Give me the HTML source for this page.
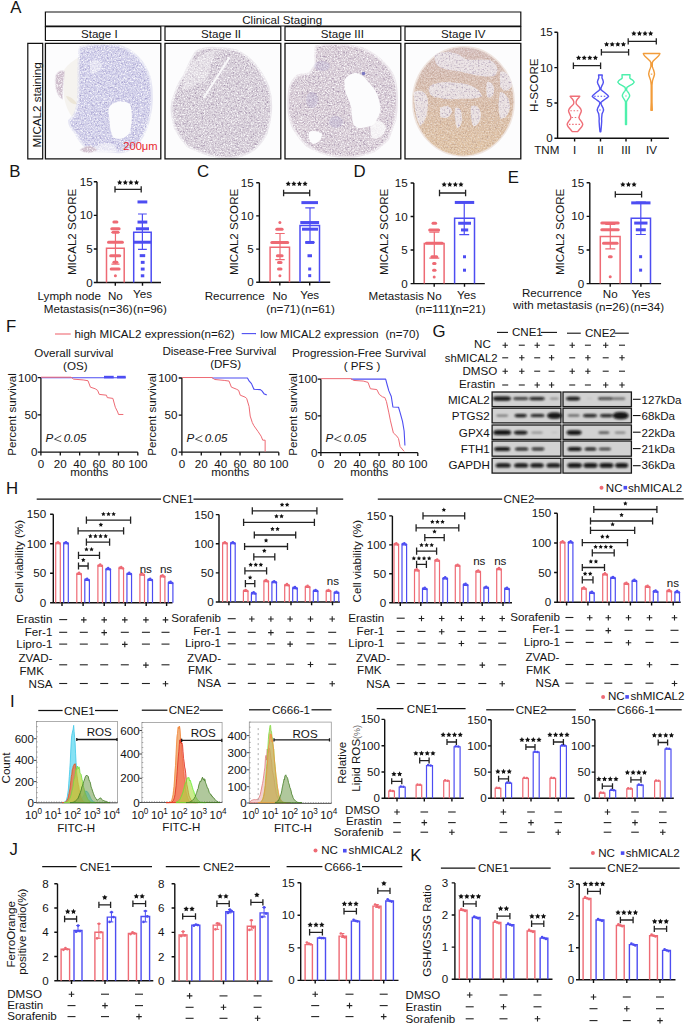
<!DOCTYPE html>
<html><head><meta charset="utf-8"><style>
html,body{margin:0;padding:0;background:#fff;width:685px;height:1027px;overflow:hidden}
svg{display:block}
</style></head><body>
<svg width="685" height="1027" viewBox="0 0 685 1027" font-family='"Liberation Sans", sans-serif' font-size="11.6" fill="#141414">
<defs>
<filter id="spk" x="0" y="0" width="100%" height="100%" color-interpolation-filters="sRGB">
 <feTurbulence type="fractalNoise" baseFrequency="0.7" numOctaves="3" seed="7" result="n"/>
 <feColorMatrix in="n" type="matrix" values="0 0 0 0 1  0 0 0 0 1  0 0 0 0 1  -2.4 0 0 0 1.38" result="w"/>
 <feComposite in="w" in2="SourceAlpha" operator="in"/>
</filter>
<filter id="spk2" x="0" y="0" width="100%" height="100%" color-interpolation-filters="sRGB">
 <feTurbulence type="fractalNoise" baseFrequency="0.55" numOctaves="3" seed="11" result="n"/>
 <feColorMatrix in="n" type="matrix" values="0 0 0 0 0.55  0 0 0 0 0.52  0 0 0 0 0.74  2.6 0 0 0 -1.3" result="w"/>
 <feComposite in="w" in2="SourceAlpha" operator="in"/>
</filter>
<filter id="spk3" x="0" y="0" width="100%" height="100%" color-interpolation-filters="sRGB">
 <feTurbulence type="fractalNoise" baseFrequency="0.55" numOctaves="3" seed="11" result="n"/>
 <feColorMatrix in="n" type="matrix" values="0 0 0 0 0.58  0 0 0 0 0.5  0 0 0 0 0.62  2.6 0 0 0 -1.3" result="w"/>
 <feComposite in="w" in2="SourceAlpha" operator="in"/>
</filter>
<filter id="spk4" x="0" y="0" width="100%" height="100%" color-interpolation-filters="sRGB">
 <feTurbulence type="fractalNoise" baseFrequency="0.55" numOctaves="3" seed="5" result="n"/>
 <feColorMatrix in="n" type="matrix" values="0 0 0 0 0.7  0 0 0 0 0.58  0 0 0 0 0.52  2.6 0 0 0 -1.3" result="w"/>
 <feComposite in="w" in2="SourceAlpha" operator="in"/>
</filter>
<filter id="blur2" x="-20%" y="-50%" width="140%" height="200%"><feGaussianBlur stdDeviation="0.85"/></filter>
</defs>
<rect width="685" height="1027" fill="#fff"/>
<text x="10.3" y="13" font-size="16.8">A</text>
<path d="M45.4 12H520.8V26H45.4Z" stroke="#111" stroke-width="1.2" fill="none"/>
<text x="282.2" y="23.5" text-anchor="middle">Clinical Staging</text>
<path d="M45.4 26.6H160.8V40.5H45.4Z" stroke="#111" stroke-width="1.2" fill="none"/>
<text x="99.3" y="37.9" text-anchor="middle">Stage I</text>
<path d="M165 26.6H280.8V40.5H165Z" stroke="#111" stroke-width="1.2" fill="none"/>
<text x="221.1" y="37.9" text-anchor="middle">Stage II</text>
<path d="M285 26.6H400.8V40.5H285Z" stroke="#111" stroke-width="1.2" fill="none"/>
<text x="342.4" y="37.9" text-anchor="middle">Stage III</text>
<path d="M405 26.6H520.8V40.5H405Z" stroke="#111" stroke-width="1.2" fill="none"/>
<text x="463.3" y="37.9" text-anchor="middle">Stage IV</text>
<path d="M27.8 43.4H42.7V158.8H27.8Z" stroke="#111" stroke-width="1.2" fill="none"/>
<text x="40.6" y="104.9" text-anchor="middle" transform="rotate(-90 40.6 104.9)">MICAL2 staining</text>
<rect x="45.4" y="43.4" width="115.4" height="115.4" fill="#fcfcfd"/>
<rect x="165" y="43.4" width="115.4" height="115.4" fill="#fcfcfd"/>
<rect x="285" y="43.4" width="115.4" height="115.4" fill="#fcfcfd"/>
<rect x="405" y="43.4" width="115.4" height="115.4" fill="#fcfcfd"/>
<path d="M64 70 C68 64 74 60 81 56 L80 80 C79 96 77 108 73 118 C68 112 65 104 64 96Z" fill="#f5f3ef"/>
<path d="M66 96 C70 96 75 100 77 104 C72 105 68 101 66 96Z" fill="#ece6d8"/>
<path d="M81 48 C90 45 105 44 117 46 C132 50 144 62 149 78 C152 92 151 108 148 120 C145 132 140 140 134 146 C128 150 122 152 116 151 C108 150 100 150 92 150 C86 148 80 140 76 132 C72 128 70 124 70 121 C74 118 78 112 79 100 C80 84 79 66 80 56 C80 52 80 50 81 48Z" fill="none" stroke="#cdcbe8" stroke-width="4" opacity="0.45"/>
<path d="M81 48 C90 45 105 44 117 46 C132 50 144 62 149 78 C152 92 151 108 148 120 C145 132 140 140 134 146 C128 150 122 152 116 151 C108 150 100 150 92 150 C86 148 80 140 76 132 C72 128 70 124 70 121 C74 118 78 112 79 100 C80 84 79 66 80 56 C80 52 80 50 81 48Z" fill="#cdcbe8"/>
<path d="M81 48 C90 45 105 44 117 46 C132 50 144 62 149 78 C152 92 151 108 148 120 C145 132 140 140 134 146 C128 150 122 152 116 151 C108 150 100 150 92 150 C86 148 80 140 76 132 C72 128 70 124 70 121 C74 118 78 112 79 100 C80 84 79 66 80 56 C80 52 80 50 81 48Z" fill="#000" filter="url(#spk2)" opacity="0.7"/>
<path d="M81 48 C90 45 105 44 117 46 C132 50 144 62 149 78 C152 92 151 108 148 120 C145 132 140 140 134 146 C128 150 122 152 116 151 C108 150 100 150 92 150 C86 148 80 140 76 132 C72 128 70 124 70 121 C74 118 78 112 79 100 C80 84 79 66 80 56 C80 52 80 50 81 48Z" fill="#000" stroke="#000" stroke-width="4" filter="url(#spk)"/>
<path d="M110 106 C114 101 124 100 130 104 C133 112 132 124 130 132 C127 138 120 140 114 138 C110 134 110 124 109 116 C108 112 108 108 110 106Z" fill="#fcfcfd"/>
<path d="M92 150 C96 144 104 142 112 144 C116 146 118 150 116 152 L90 152Z" fill="#fcfcfd" opacity="0.6"/>
<path d="M90 62 C94 58 100 60 102 66 C100 72 94 76 90 72Z" fill="#fff" opacity="0.45"/>
<path d="M56 76 C58 72 62 70 64 72 C63 80 62 90 62 98 C58 96 55 88 56 76Z" fill="none" stroke="#cdbccb" stroke-width="2" opacity="0.45"/>
<path d="M56 76 C58 72 62 70 64 72 C63 80 62 90 62 98 C58 96 55 88 56 76Z" fill="#cdbccb"/>
<path d="M56 76 C58 72 62 70 64 72 C63 80 62 90 62 98 C58 96 55 88 56 76Z" fill="#000" stroke="#000" stroke-width="2" filter="url(#spk)"/>
<path d="M81 150 C85 146 92 145 96 150 C92 153 85 153 81 150Z" fill="none" stroke="#cfbecc" stroke-width="2" opacity="0.45"/>
<path d="M81 150 C85 146 92 145 96 150 C92 153 85 153 81 150Z" fill="#cfbecc"/>
<path d="M81 150 C85 146 92 145 96 150 C92 153 85 153 81 150Z" fill="#000" stroke="#000" stroke-width="2" filter="url(#spk)"/>
<path d="M196.7 52.3 C203 49 210 48.5 215.7 48.9 C224 49 231 50 236.4 51.5 C244 55 249 59 253.6 64.4 C260 72 264 79 267.4 86.8 C270 95 270.5 103 270 110.9 C269.5 119 268 126 265.6 133.3 C262 140 258 145 253.6 148.8 C247 153 240 156 232.9 156.6 C224 157 216 156 208.8 154 C201 151 194 149 188.1 145.4 C183 140 179 134 176 128.1 C174 121 172.5 114 172.6 107.5 C173 102 174 98 176 93.7 C178 87 181 81 184.7 76.5 C188 69 192 59 196.7 52.3Z" fill="none" stroke="#d3cad5" stroke-width="4" opacity="0.45"/>
<path d="M196.7 52.3 C203 49 210 48.5 215.7 48.9 C224 49 231 50 236.4 51.5 C244 55 249 59 253.6 64.4 C260 72 264 79 267.4 86.8 C270 95 270.5 103 270 110.9 C269.5 119 268 126 265.6 133.3 C262 140 258 145 253.6 148.8 C247 153 240 156 232.9 156.6 C224 157 216 156 208.8 154 C201 151 194 149 188.1 145.4 C183 140 179 134 176 128.1 C174 121 172.5 114 172.6 107.5 C173 102 174 98 176 93.7 C178 87 181 81 184.7 76.5 C188 69 192 59 196.7 52.3Z" fill="#d3cad5"/>
<path d="M196.7 52.3 C203 49 210 48.5 215.7 48.9 C224 49 231 50 236.4 51.5 C244 55 249 59 253.6 64.4 C260 72 264 79 267.4 86.8 C270 95 270.5 103 270 110.9 C269.5 119 268 126 265.6 133.3 C262 140 258 145 253.6 148.8 C247 153 240 156 232.9 156.6 C224 157 216 156 208.8 154 C201 151 194 149 188.1 145.4 C183 140 179 134 176 128.1 C174 121 172.5 114 172.6 107.5 C173 102 174 98 176 93.7 C178 87 181 81 184.7 76.5 C188 69 192 59 196.7 52.3Z" fill="#000" filter="url(#spk3)" opacity="0.8"/>
<path d="M196.7 52.3 C203 49 210 48.5 215.7 48.9 C224 49 231 50 236.4 51.5 C244 55 249 59 253.6 64.4 C260 72 264 79 267.4 86.8 C270 95 270.5 103 270 110.9 C269.5 119 268 126 265.6 133.3 C262 140 258 145 253.6 148.8 C247 153 240 156 232.9 156.6 C224 157 216 156 208.8 154 C201 151 194 149 188.1 145.4 C183 140 179 134 176 128.1 C174 121 172.5 114 172.6 107.5 C173 102 174 98 176 93.7 C178 87 181 81 184.7 76.5 C188 69 192 59 196.7 52.3Z" fill="#000" stroke="#000" stroke-width="4" filter="url(#spk)"/>
<path d="M202.6 97.6 L228.6 57 L230.4 58 L204.6 98.6Z" fill="#fcfcfd" opacity="0.9"/>
<path d="M186 70 C194 58 206 52 216 50 L206 80 C198 84 190 88 182 90Z" fill="#fff" opacity="0.35"/>
<path d="M316.7 47.2 C325 45.5 333 45 340.8 45.4 C348 46 355 47 361.5 48.9 C369 52 375 56 380.5 61 C386 66 390 71 392.5 76.5 C395 83 396 91 396 98.8 C396 106 395.5 113 394.3 119.5 C392 126 390 132 387.4 138.5 C383 143 378 147 373.6 150.5 C367 153 360 155 352.9 155.7 C345 156 336 155.5 328.8 154 C321 152 314 149 308.1 145.4 C302 140 298 134 294.3 128.1 C291 121 289.5 114 289.2 107.5 C289 100 289.5 93 290.9 86.8 C292.5 82 295 79 297.8 76.5 C302 75 306 75 309.8 74.7 C312 71 315 68 316.7 64.4 C316 58 316 52 316.7 47.2Z" fill="none" stroke="#d6cad4" stroke-width="4" opacity="0.45"/>
<path d="M316.7 47.2 C325 45.5 333 45 340.8 45.4 C348 46 355 47 361.5 48.9 C369 52 375 56 380.5 61 C386 66 390 71 392.5 76.5 C395 83 396 91 396 98.8 C396 106 395.5 113 394.3 119.5 C392 126 390 132 387.4 138.5 C383 143 378 147 373.6 150.5 C367 153 360 155 352.9 155.7 C345 156 336 155.5 328.8 154 C321 152 314 149 308.1 145.4 C302 140 298 134 294.3 128.1 C291 121 289.5 114 289.2 107.5 C289 100 289.5 93 290.9 86.8 C292.5 82 295 79 297.8 76.5 C302 75 306 75 309.8 74.7 C312 71 315 68 316.7 64.4 C316 58 316 52 316.7 47.2Z" fill="#d6cad4"/>
<path d="M316.7 47.2 C325 45.5 333 45 340.8 45.4 C348 46 355 47 361.5 48.9 C369 52 375 56 380.5 61 C386 66 390 71 392.5 76.5 C395 83 396 91 396 98.8 C396 106 395.5 113 394.3 119.5 C392 126 390 132 387.4 138.5 C383 143 378 147 373.6 150.5 C367 153 360 155 352.9 155.7 C345 156 336 155.5 328.8 154 C321 152 314 149 308.1 145.4 C302 140 298 134 294.3 128.1 C291 121 289.5 114 289.2 107.5 C289 100 289.5 93 290.9 86.8 C292.5 82 295 79 297.8 76.5 C302 75 306 75 309.8 74.7 C312 71 315 68 316.7 64.4 C316 58 316 52 316.7 47.2Z" fill="#000" filter="url(#spk3)" opacity="0.8"/>
<path d="M316.7 47.2 C325 45.5 333 45 340.8 45.4 C348 46 355 47 361.5 48.9 C369 52 375 56 380.5 61 C386 66 390 71 392.5 76.5 C395 83 396 91 396 98.8 C396 106 395.5 113 394.3 119.5 C392 126 390 132 387.4 138.5 C383 143 378 147 373.6 150.5 C367 153 360 155 352.9 155.7 C345 156 336 155.5 328.8 154 C321 152 314 149 308.1 145.4 C302 140 298 134 294.3 128.1 C291 121 289.5 114 289.2 107.5 C289 100 289.5 93 290.9 86.8 C292.5 82 295 79 297.8 76.5 C302 75 306 75 309.8 74.7 C312 71 315 68 316.7 64.4 C316 58 316 52 316.7 47.2Z" fill="#000" stroke="#000" stroke-width="4" filter="url(#spk)"/>
<g fill="#9c94cc" opacity="0.2"><ellipse cx="322" cy="66" rx="8" ry="5"/><ellipse cx="336" cy="122" rx="7" ry="6"/><ellipse cx="312" cy="100" rx="6" ry="8"/></g>
<path d="M344.3 79.9 C348 75 352 73 356.4 73 C360 74 364 76 366.7 79.9 C371 85 375 89 377 93.7 C379 99 380.5 105 380.5 110.9 C379 116 376 121 373.6 124.7 C368 127 363 128 358.1 128.1 C355 126 354 125 352.9 123 C352 118 351.5 112 351.2 107.5 C350 102 348 98 346 93.7 C345 89 344 84 344.3 79.9Z" fill="#fcfcfd"/>
<path d="M309 132 C313 130 319 131 322 134 C322 139 319 143 313 144 C309 141 308 136 309 132Z" fill="#fcfcfd"/>
<path d="M372 122 C378 118 384 122 386 128 C384 136 378 140 372 138 C370 132 370 126 372 122Z" fill="#fcfcfd" opacity="0.8"/>
<circle cx="363.5" cy="73.5" r="1.8" fill="#7a78c0"/>
<linearGradient id="g4" x1="0" y1="0" x2="0" y2="1"><stop offset="0" stop-color="#d3bcba"/><stop offset="0.5" stop-color="#d8bca8"/><stop offset="1" stop-color="#dfc2a2"/></linearGradient>
<path d="M463.4 47.4 C491 47.4 513.4 71.6 513.4 101.4 C513.4 131.2 491 155.4 463.4 155.4 C435.8 155.4 413.4 131.2 413.4 101.4 C413.4 71.6 435.8 47.4 463.4 47.4Z" fill="none" stroke="#dcc4b4" stroke-width="3" opacity="0.4"/>
<path d="M463.4 47.4 C491 47.4 513.4 71.6 513.4 101.4 C513.4 131.2 491 155.4 463.4 155.4 C435.8 155.4 413.4 131.2 413.4 101.4 C413.4 71.6 435.8 47.4 463.4 47.4Z" fill="url(#g4)"/>
<path d="M463.4 47.4 C491 47.4 513.4 71.6 513.4 101.4 C513.4 131.2 491 155.4 463.4 155.4 C435.8 155.4 413.4 131.2 413.4 101.4 C413.4 71.6 435.8 47.4 463.4 47.4Z" fill="#000" filter="url(#spk4)" opacity="0.75"/>
<g fill="#ece6ea" opacity="0.85"><path d="M436 54 C446 50 458 52 464 58 C470 62 478 58 490 60 C498 64 500 72 494 76 C484 78 472 74 462 72 C452 70 444 70 438 66 C434 62 434 57 436 54Z"/><path d="M430 86 C440 80 452 82 466 84 C474 86 480 90 482 96 C476 100 466 98 456 99 C446 100 438 98 432 96 C428 92 428 89 430 86Z"/><path d="M414 92 C420 88 428 92 428 102 C428 112 426 122 420 126 C416 120 414 108 414 92Z"/><path d="M455 108 C459 106 462 110 462 118 C462 124 460 128 457 128 C455 122 454 114 455 108Z"/><path d="M471 106 C476 104 481 108 481 116 C480 122 477 127 473 126 C471 120 470 112 471 106Z"/><path d="M487 82 C491 81 495 86 494 92 C493 97 490 99 487 97 C486 92 486 86 487 82Z"/><path d="M500 92 C505 92 510 98 510 108 C508 116 504 120 500 118 C498 110 498 100 500 92Z"/><path d="M500 72 C505 70 511 76 512 86 C508 92 503 92 500 86Z"/><path d="M440 108 C446 104 452 106 452 112 C450 118 444 120 440 116Z"/></g>
<g fill="#000" filter="url(#spk3)" opacity="0.7"><path d="M436 54 C446 50 458 52 464 58 C470 62 478 58 490 60 C498 64 500 72 494 76 C484 78 472 74 462 72 C452 70 444 70 438 66 C434 62 434 57 436 54Z"/><path d="M430 86 C440 80 452 82 466 84 C474 86 480 90 482 96 C476 100 466 98 456 99 C446 100 438 98 432 96 C428 92 428 89 430 86Z"/><path d="M414 92 C420 88 428 92 428 102 C428 112 426 122 420 126 C416 120 414 108 414 92Z"/><path d="M455 108 C459 106 462 110 462 118 C462 124 460 128 457 128 C455 122 454 114 455 108Z"/><path d="M471 106 C476 104 481 108 481 116 C480 122 477 127 473 126 C471 120 470 112 471 106Z"/><path d="M487 82 C491 81 495 86 494 92 C493 97 490 99 487 97 C486 92 486 86 487 82Z"/><path d="M500 92 C505 92 510 98 510 108 C508 116 504 120 500 118 C498 110 498 100 500 92Z"/><path d="M500 72 C505 70 511 76 512 86 C508 92 503 92 500 86Z"/><path d="M440 108 C446 104 452 106 452 112 C450 118 444 120 440 116Z"/></g>
<path d="M463.4 47.4 C491 47.4 513.4 71.6 513.4 101.4 C513.4 131.2 491 155.4 463.4 155.4 C435.8 155.4 413.4 131.2 413.4 101.4 C413.4 71.6 435.8 47.4 463.4 47.4Z" fill="#000" filter="url(#spk)" opacity="0.5"/>
<path d="M45.4 43.4H160.8V158.8H45.4Z" stroke="#111" stroke-width="1.3" fill="none"/>
<path d="M165 43.4H280.8V158.8H165Z" stroke="#111" stroke-width="1.3" fill="none"/>
<path d="M285 43.4H400.8V158.8H285Z" stroke="#111" stroke-width="1.3" fill="none"/>
<path d="M405 43.4H520.8V158.8H405Z" stroke="#111" stroke-width="1.3" fill="none"/>
<text x="123.2" y="149.6" font-size="11.2" fill="#e8262e">200μm</text>
<path d="M557.6 32.3V138.3H668.9M554.4 138.3H557.6M554.4 102.97H557.6M554.4 67.63H557.6M554.4 32.3H557.6M574.6 138.3V141.5M600.5 138.3V141.5M626 138.3V141.5M651.4 138.3V141.5" stroke="#111" stroke-width="1.4" fill="none"/>
<text x="552.8" y="142.3" text-anchor="end">0</text>
<text x="552.8" y="106.97" text-anchor="end">5</text>
<text x="552.8" y="71.63" text-anchor="end">10</text>
<text x="552.8" y="36.3" text-anchor="end">15</text>
<text x="537.6" y="85.2" text-anchor="middle" transform="rotate(-90 537.6 85.2)">H-SCORE</text>
<text x="534.2" y="154.2">TNM</text>
<text x="574.6" y="154.2" text-anchor="middle">I</text>
<text x="600.5" y="154.2" text-anchor="middle">II</text>
<text x="626" y="154.2" text-anchor="middle">III</text>
<text x="651.4" y="154.2" text-anchor="middle">IV</text>
<path d="M579.75 96.32 L578.75 97.67 L577.75 98.73 L576.55 100.49 L576.05 101.91 L576.15 103.32 L576.55 104.38 L577.95 105.79 L579.45 107.21 L580.75 108.97 L581.35 110.74 L581.05 112.15 L580.35 113.64 L579.45 115.69 L578.95 117.52 L579.55 119.22 L580.75 120.63 L581.75 122.05 L582.45 123.32 L582.75 124.38 L582.25 125.93 L581.35 127.28 L580.05 128.76 L578.75 130.31 L577.65 131.59 L572.25 131.59 L571.15 130.31 L569.85 128.76 L568.55 127.28 L567.65 125.93 L567.15 124.38 L567.45 123.32 L568.15 122.05 L569.15 120.63 L570.35 119.22 L570.95 117.52 L570.45 115.69 L569.55 113.64 L568.85 112.15 L568.55 110.74 L569.15 108.97 L570.45 107.21 L571.95 105.79 L573.35 104.38 L573.75 103.32 L573.85 101.91 L573.35 100.49 L572.15 98.73 L571.15 97.67 L570.15 96.32Z" stroke="#ef6f78" stroke-width="1.4" fill="none" stroke-linejoin="round"/>
<path d="M570.35 110.74H579.55" stroke="#ef6f78" stroke-width="1.1" fill="none" stroke-dasharray="1.5 1.7"/>
<path d="M571.55 117.52H578.35" stroke="#ef6f78" stroke-width="1.1" fill="none" stroke-dasharray="1.5 1.7"/>
<path d="M568.95 124.38H580.95" stroke="#ef6f78" stroke-width="1.1" fill="none" stroke-dasharray="1.5 1.7"/>
<path d="M602.25 75.05 L602 76.82 L602 78.09 L603 80.35 L603.4 82.05 L602.9 83.89 L602.05 85.37 L601.2 87.42 L600.8 89.4 L602 90.6 L603.9 92.01 L606 93.78 L607.7 95.19 L608.6 96.32 L607.3 97.67 L605 99.29 L602.8 100.85 L600.9 102.61 L601.3 104.38 L601.9 105.93 L603 107.91 L603.6 109.96 L603 111.8 L602.05 113.85 L601.6 118.51 L601.7 121.2 L601.3 126.99 L600.8 131.8 L600 131.8 L599.5 126.99 L599.1 121.2 L599.2 118.51 L598.75 113.85 L597.8 111.8 L597.2 109.96 L597.8 107.91 L598.9 105.93 L599.5 104.38 L599.9 102.61 L598 100.85 L595.8 99.29 L593.5 97.67 L592.2 96.32 L593.1 95.19 L594.8 93.78 L596.9 92.01 L598.8 90.6 L600 89.4 L599.6 87.42 L598.75 85.37 L597.9 83.89 L597.4 82.05 L597.8 80.35 L598.8 78.09 L598.8 76.82 L598.55 75.05Z" stroke="#5252f2" stroke-width="1.4" fill="none" stroke-linejoin="round"/>
<path d="M594.2 96.32H606.6" stroke="#5252f2" stroke-width="1.1" fill="none" stroke-dasharray="1.5 1.7"/>
<path d="M599.2 109.96H601.6" stroke="#5252f2" stroke-width="1.1" fill="none" stroke-dasharray="1.5 1.7"/>
<path d="M630 74.7 L629.8 78.09 L630.6 78.94 L632.2 79.79 L633.5 81.06 L634.2 82.05 L633.4 83.18 L632 84.38 L629.6 85.65 L626.9 87.42 L626.5 90.03 L627.4 91.31 L628.5 92.72 L629.4 94.49 L629.7 95.97 L628.9 97.67 L627.8 99.29 L626.9 100.85 L626.5 101.98 L626.5 124.45 L625.5 124.45 L625.5 101.98 L625.1 100.85 L624.2 99.29 L623.1 97.67 L622.3 95.97 L622.6 94.49 L623.5 92.72 L624.6 91.31 L625.5 90.03 L625.1 87.42 L622.4 85.65 L620 84.38 L618.6 83.18 L617.8 82.05 L618.5 81.06 L619.8 79.79 L621.4 78.94 L622.2 78.09 L622 74.7Z" stroke="#4ef0ac" stroke-width="1.4" fill="none" stroke-linejoin="round"/>
<path d="M625.2 95.97H626.8" stroke="#4ef0ac" stroke-width="1.1" fill="none" stroke-dasharray="1.5 1.7"/>
<path d="M659.9 53.57 L659.5 54.56 L658.7 55.69 L656.9 57.39 L655 59.15 L653.2 60.92 L652.3 62.55 L652.3 66.64 L652.9 68.34 L653.6 70.04 L654.2 72.23 L654.5 74.13 L654.1 76.11 L653.3 78.23 L652.6 80.35 L652.3 82.26 L652 85.09 L652 102.12 L652.3 110.32 L650.9 110.32 L651.2 102.12 L651.2 85.09 L650.9 82.26 L650.6 80.35 L649.9 78.23 L649.1 76.11 L648.7 74.13 L649 72.23 L649.6 70.04 L650.3 68.34 L650.9 66.64 L650.9 62.55 L650 60.92 L648.2 59.15 L646.3 57.39 L644.5 55.69 L643.7 54.56 L643.3 53.57Z" stroke="#f29c3a" stroke-width="1.4" fill="none" stroke-linejoin="round"/>
<path d="M650.8 74.13H652.4" stroke="#f29c3a" stroke-width="1.1" fill="none" stroke-dasharray="1.5 1.7"/>
<path d="M573.4 65.7H600.6M573.4 62.5V68.9M600.6 62.5V68.9" stroke="#222" stroke-width="1.3" fill="none"/>
<path d="M578.6 55.15L579.41 56.79L581.22 57.05L579.91 58.32L580.22 60.12L578.6 59.28L576.98 60.12L577.29 58.32L575.98 57.05L577.79 56.79ZM584.2 55.15L585.01 56.79L586.82 57.05L585.51 58.32L585.82 60.12L584.2 59.28L582.58 60.12L582.89 58.32L581.58 57.05L583.39 56.79ZM589.8 55.15L590.61 56.79L592.42 57.05L591.11 58.32L591.42 60.12L589.8 59.28L588.18 60.12L588.49 58.32L587.18 57.05L588.99 56.79ZM595.4 55.15L596.21 56.79L598.02 57.05L596.71 58.32L597.02 60.12L595.4 59.28L593.78 60.12L594.09 58.32L592.78 57.05L594.59 56.79Z" fill="#111"/>
<path d="M601.4 52.2H628.6M601.4 49V55.4M628.6 49V55.4" stroke="#222" stroke-width="1.3" fill="none"/>
<path d="M606.6 41.65L607.41 43.29L609.22 43.55L607.91 44.82L608.22 46.62L606.6 45.78L604.98 46.62L605.29 44.82L603.98 43.55L605.79 43.29ZM612.2 41.65L613.01 43.29L614.82 43.55L613.51 44.82L613.82 46.62L612.2 45.78L610.58 46.62L610.89 44.82L609.58 43.55L611.39 43.29ZM617.8 41.65L618.61 43.29L620.42 43.55L619.11 44.82L619.42 46.62L617.8 45.78L616.18 46.62L616.49 44.82L615.18 43.55L616.99 43.29ZM623.4 41.65L624.21 43.29L626.02 43.55L624.71 44.82L625.02 46.62L623.4 45.78L621.78 46.62L622.09 44.82L620.78 43.55L622.59 43.29Z" fill="#111"/>
<path d="M628.2 41.4H656.3M628.2 38.2V44.6M656.3 38.2V44.6" stroke="#222" stroke-width="1.3" fill="none"/>
<path d="M633.85 30.85L634.66 32.49L636.47 32.75L635.16 34.02L635.47 35.82L633.85 34.98L632.23 35.82L632.54 34.02L631.23 32.75L633.04 32.49ZM639.45 30.85L640.26 32.49L642.07 32.75L640.76 34.02L641.07 35.82L639.45 34.98L637.83 35.82L638.14 34.02L636.83 32.75L638.64 32.49ZM645.05 30.85L645.86 32.49L647.67 32.75L646.36 34.02L646.67 35.82L645.05 34.98L643.43 35.82L643.74 34.02L642.43 32.75L644.24 32.49ZM650.65 30.85L651.46 32.49L653.27 32.75L651.96 34.02L652.27 35.82L650.65 34.98L649.03 35.82L649.34 34.02L648.03 32.75L649.84 32.49Z" fill="#111"/>
<text x="9.2" y="177.3" font-size="16.8">B</text>
<text x="197" y="177.3" font-size="16.8">C</text>
<text x="353.6" y="177.3" font-size="16.8">D</text>
<text x="507.8" y="182.6" font-size="16.8">E</text>
<path d="M97 181.8V282.5H161M93.8 282.5H97M93.8 248.93H97M93.8 215.37H97M93.8 181.8H97M115.3 282.5V285.7M142.5 282.5V285.7" stroke="#111" stroke-width="1.4" fill="none"/>
<text x="92.6" y="286.5" text-anchor="end">0</text>
<text x="92.6" y="252.93" text-anchor="end">5</text>
<text x="92.6" y="219.37" text-anchor="end">10</text>
<text x="92.6" y="185.8" text-anchor="end">15</text>
<path d="M106.5 282.5V248.26H124.2V282.5" stroke="#ee6a74" stroke-width="1.5" fill="none"/>
<path d="M133.7 282.5V232.28H151.2V282.5" stroke="#4d4df2" stroke-width="1.5" fill="none"/>
<path d="M113.9 222.08H116.9" stroke="#ee6a74" stroke-width="3" fill="none" stroke-linecap="round"/>
<path d="M111.8 228.79H119.1" stroke="#ee6a74" stroke-width="3" fill="none" stroke-linecap="round"/>
<path d="M113 232.15H118" stroke="#ee6a74" stroke-width="3" fill="none" stroke-linecap="round"/>
<path d="M108.5 242.22H122.4" stroke="#ee6a74" stroke-width="3" fill="none" stroke-linecap="round"/>
<path d="M110.7 255.65H119.7" stroke="#ee6a74" stroke-width="3" fill="none" stroke-linecap="round"/>
<path d="M113.9 262.36H116.9" stroke="#ee6a74" stroke-width="3" fill="none" stroke-linecap="round"/>
<path d="M111.2 269.07H119.1" stroke="#ee6a74" stroke-width="3" fill="none" stroke-linecap="round"/>
<path d="M115.4 275.79H115.4" stroke="#ee6a74" stroke-width="3" fill="none" stroke-linecap="round"/>
<path d="M137.5 201.94H147.3" stroke="#4d4df2" stroke-width="3" fill="none"/>
<path d="M137.5 222.08H147.3" stroke="#4d4df2" stroke-width="3" fill="none"/>
<path d="M135.9 228.79H149" stroke="#4d4df2" stroke-width="3" fill="none"/>
<path d="M133.7 242.22H151.2" stroke="#4d4df2" stroke-width="3" fill="none"/>
<path d="M139.7 255.65H145.2" stroke="#4d4df2" stroke-width="3" fill="none"/>
<path d="M140.8 262.36H144.6" stroke="#4d4df2" stroke-width="3" fill="none"/>
<path d="M140.8 269.07H144.6" stroke="#4d4df2" stroke-width="3" fill="none"/>
<path d="M140.8 275.79H144.3" stroke="#4d4df2" stroke-width="3" fill="none"/>
<path d="M115.45 232.49V264.11M111.4 232.49H119.5M111.4 264.11H119.5" stroke="#ee6a74" stroke-width="1.2" fill="none"/>
<path d="M142.4 214.02V249.4M138 214.02H146.8M138 249.4H146.8" stroke="#4d4df2" stroke-width="1.2" fill="none"/>
<path d="M115 189.4H141.2M115 186.2V192.6M141.2 186.2V192.6" stroke="#222" stroke-width="1.3" fill="none"/>
<path d="M119.7 179.75L120.51 181.39L122.32 181.65L121.01 182.92L121.32 184.72L119.7 183.88L118.08 184.72L118.39 182.92L117.08 181.65L118.89 181.39ZM125.3 179.75L126.11 181.39L127.92 181.65L126.61 182.92L126.92 184.72L125.3 183.88L123.68 184.72L123.99 182.92L122.68 181.65L124.49 181.39ZM130.9 179.75L131.71 181.39L133.52 181.65L132.21 182.92L132.52 184.72L130.9 183.88L129.28 184.72L129.59 182.92L128.28 181.65L130.09 181.39ZM136.5 179.75L137.31 181.39L139.12 181.65L137.81 182.92L138.12 184.72L136.5 183.88L134.88 184.72L135.19 182.92L133.88 181.65L135.69 181.39Z" fill="#111"/>
<text x="75.7" y="231.9" text-anchor="middle" transform="rotate(-90 75.7 231.9)">MICAL2 SCORE</text>
<text x="37.6" y="299.6">Lymph node</text>
<text x="115.3" y="299.6" text-anchor="middle">No</text>
<text x="142.5" y="298.3" text-anchor="middle">Yes</text>
<text x="43.8" y="313">Metastasis</text>
<text x="98.9" y="313">(n=36)</text>
<text x="133.1" y="313">(n=96)</text>
<path d="M259.4 182.7V282.3H330.2M256.2 282.3H259.4M256.2 249.1H259.4M256.2 215.9H259.4M256.2 182.7H259.4M279.8 282.3V285.5M309.7 282.3V285.5" stroke="#111" stroke-width="1.4" fill="none"/>
<text x="253.6" y="286.3" text-anchor="end">0</text>
<text x="253.6" y="253.1" text-anchor="end">5</text>
<text x="253.6" y="219.9" text-anchor="end">10</text>
<text x="253.6" y="186.7" text-anchor="end">15</text>
<path d="M270.1 282.3V247.31H289.5V282.3" stroke="#ee6a74" stroke-width="1.5" fill="none"/>
<path d="M300 282.3V225.53H319.5V282.3" stroke="#4d4df2" stroke-width="1.5" fill="none"/>
<path d="M279.9 222.54H279.9" stroke="#ee6a74" stroke-width="3" fill="none" stroke-linecap="round"/>
<path d="M276.8 229.18H282.1" stroke="#ee6a74" stroke-width="3" fill="none" stroke-linecap="round"/>
<path d="M271.8 242.46H287.7" stroke="#ee6a74" stroke-width="3" fill="none" stroke-linecap="round"/>
<path d="M277.4 255.74H282.1" stroke="#ee6a74" stroke-width="3" fill="none" stroke-linecap="round"/>
<path d="M278.5 262.38H281" stroke="#ee6a74" stroke-width="3" fill="none" stroke-linecap="round"/>
<path d="M278.5 269.02H281" stroke="#ee6a74" stroke-width="3" fill="none" stroke-linecap="round"/>
<path d="M279.9 275.66H279.9" stroke="#ee6a74" stroke-width="3" fill="none" stroke-linecap="round"/>
<path d="M301.4 202.62H318" stroke="#4d4df2" stroke-width="3" fill="none"/>
<path d="M300.3 222.54H319.1" stroke="#4d4df2" stroke-width="3" fill="none"/>
<path d="M302 229.18H318" stroke="#4d4df2" stroke-width="3" fill="none"/>
<path d="M305.3 242.46H314.2" stroke="#4d4df2" stroke-width="3" fill="none"/>
<path d="M307.5 255.74H312" stroke="#4d4df2" stroke-width="3" fill="none"/>
<path d="M308.2 269.02H311.2" stroke="#4d4df2" stroke-width="3" fill="none"/>
<path d="M308.2 275.66H311.2" stroke="#4d4df2" stroke-width="3" fill="none"/>
<path d="M280 233.5V259.72M275.3 233.5H284.7M275.3 259.72H284.7" stroke="#ee6a74" stroke-width="1.2" fill="none"/>
<path d="M310 207.93V242.46M305.3 207.93H314.7M305.3 242.46H314.7" stroke="#4d4df2" stroke-width="1.2" fill="none"/>
<path d="M283.6 193H309.7M283.6 189.8V196.2M309.7 189.8V196.2" stroke="#222" stroke-width="1.3" fill="none"/>
<path d="M288.25 181.05L289.06 182.69L290.87 182.95L289.56 184.22L289.87 186.02L288.25 185.18L286.63 186.02L286.94 184.22L285.63 182.95L287.44 182.69ZM293.85 181.05L294.66 182.69L296.47 182.95L295.16 184.22L295.47 186.02L293.85 185.18L292.23 186.02L292.54 184.22L291.23 182.95L293.04 182.69ZM299.45 181.05L300.26 182.69L302.07 182.95L300.76 184.22L301.07 186.02L299.45 185.18L297.83 186.02L298.14 184.22L296.83 182.95L298.64 182.69ZM305.05 181.05L305.86 182.69L307.67 182.95L306.36 184.22L306.67 186.02L305.05 185.18L303.43 186.02L303.74 184.22L302.43 182.95L304.24 182.69Z" fill="#111"/>
<text x="238.2" y="231.9" text-anchor="middle" transform="rotate(-90 238.2 231.9)">MICAL2 SCORE</text>
<text x="204.7" y="299.7">Recurrence</text>
<text x="279.8" y="299.7" text-anchor="middle">No</text>
<text x="309.7" y="298.5" text-anchor="middle">Yes</text>
<text x="266.3" y="312.8">(n=71)</text>
<text x="301.1" y="312.8">(n=61)</text>
<path d="M413.8 183V283.6H484.8M410.6 283.6H413.8M410.6 250.07H413.8M410.6 216.53H413.8M410.6 183H413.8M434.2 283.6V286.8M464.5 283.6V286.8" stroke="#111" stroke-width="1.4" fill="none"/>
<text x="407.6" y="287.6" text-anchor="end">0</text>
<text x="407.6" y="254.07" text-anchor="end">5</text>
<text x="407.6" y="220.53" text-anchor="end">10</text>
<text x="407.6" y="187" text-anchor="end">15</text>
<path d="M424.3 283.6V243.56H444.1V283.6" stroke="#ee6a74" stroke-width="1.5" fill="none"/>
<path d="M454.6 283.6V218.21H474.5V283.6" stroke="#4d4df2" stroke-width="1.5" fill="none"/>
<path d="M433 223.24H435.6" stroke="#ee6a74" stroke-width="3" fill="none" stroke-linecap="round"/>
<path d="M429.7 229.95H438.6" stroke="#ee6a74" stroke-width="3" fill="none" stroke-linecap="round"/>
<path d="M426.4 243.36H442.2" stroke="#ee6a74" stroke-width="3" fill="none" stroke-linecap="round"/>
<path d="M431.9 256.77H436.7" stroke="#ee6a74" stroke-width="3" fill="none" stroke-linecap="round"/>
<path d="M433.6 263.48H435" stroke="#ee6a74" stroke-width="3" fill="none" stroke-linecap="round"/>
<path d="M433.6 270.19H435" stroke="#ee6a74" stroke-width="3" fill="none" stroke-linecap="round"/>
<path d="M434.2 276.89H434.2" stroke="#ee6a74" stroke-width="3" fill="none" stroke-linecap="round"/>
<path d="M454.8 202.45H474.2" stroke="#4d4df2" stroke-width="3" fill="none"/>
<path d="M458.2 223.24H471" stroke="#4d4df2" stroke-width="3" fill="none"/>
<path d="M461 229.95H468.2" stroke="#4d4df2" stroke-width="3" fill="none"/>
<path d="M463 256.77H466" stroke="#4d4df2" stroke-width="3" fill="none"/>
<path d="M463 270.19H466" stroke="#4d4df2" stroke-width="3" fill="none"/>
<path d="M434.3 232.16V258.11M429.3 232.16H439.3M429.3 258.11H439.3" stroke="#ee6a74" stroke-width="1.2" fill="none"/>
<path d="M464.25 201.78V234.64M459.3 201.78H469.2M459.3 234.64H469.2" stroke="#4d4df2" stroke-width="1.2" fill="none"/>
<path d="M439.5 193H465.6M439.5 189.8V196.2M465.6 189.8V196.2" stroke="#222" stroke-width="1.3" fill="none"/>
<path d="M444.15 181.85L444.96 183.49L446.77 183.75L445.46 185.02L445.77 186.82L444.15 185.97L442.53 186.82L442.84 185.02L441.53 183.75L443.34 183.49ZM449.75 181.85L450.56 183.49L452.37 183.75L451.06 185.02L451.37 186.82L449.75 185.97L448.13 186.82L448.44 185.02L447.13 183.75L448.94 183.49ZM455.35 181.85L456.16 183.49L457.97 183.75L456.66 185.02L456.97 186.82L455.35 185.97L453.73 186.82L454.04 185.02L452.73 183.75L454.54 183.49ZM460.95 181.85L461.76 183.49L463.57 183.75L462.26 185.02L462.57 186.82L460.95 185.97L459.33 186.82L459.64 185.02L458.33 183.75L460.14 183.49Z" fill="#111"/>
<text x="387.6" y="231.9" text-anchor="middle" transform="rotate(-90 387.6 231.9)">MICAL2 SCORE</text>
<text x="368.5" y="299.6">Metastasis</text>
<text x="434.2" y="299.6" text-anchor="middle">No</text>
<text x="466.5" y="298.6" text-anchor="middle">Yes</text>
<text x="415.2" y="312.8">(n=111)</text>
<text x="451.7" y="312.8">(n=21)</text>
<path d="M589.8 182.7V283.6H661.1M586.6 283.6H589.8M586.6 249.97H589.8M586.6 216.33H589.8M586.6 182.7H589.8M610.2 283.6V286.8M640.9 283.6V286.8" stroke="#111" stroke-width="1.4" fill="none"/>
<text x="584.2" y="287.6" text-anchor="end">0</text>
<text x="584.2" y="253.97" text-anchor="end">5</text>
<text x="584.2" y="220.33" text-anchor="end">10</text>
<text x="584.2" y="186.7" text-anchor="end">15</text>
<path d="M600.3 283.6V236.51H620.1V283.6" stroke="#ee6a74" stroke-width="1.5" fill="none"/>
<path d="M631.2 283.6V218.35H650.5V283.6" stroke="#4d4df2" stroke-width="1.5" fill="none"/>
<path d="M601.8 223.06H618.2" stroke="#ee6a74" stroke-width="3" fill="none" stroke-linecap="round"/>
<path d="M601.8 229.79H618.2" stroke="#ee6a74" stroke-width="3" fill="none" stroke-linecap="round"/>
<path d="M603.5 243.24H617.1" stroke="#ee6a74" stroke-width="3" fill="none" stroke-linecap="round"/>
<path d="M609.4 256.69H611.2" stroke="#ee6a74" stroke-width="3" fill="none" stroke-linecap="round"/>
<path d="M610.2 276.87H610.2" stroke="#ee6a74" stroke-width="3" fill="none" stroke-linecap="round"/>
<path d="M631.2 202.88H650.5" stroke="#4d4df2" stroke-width="3" fill="none"/>
<path d="M634.2 223.06H647.5" stroke="#4d4df2" stroke-width="3" fill="none"/>
<path d="M635.8 229.79H645.8" stroke="#4d4df2" stroke-width="3" fill="none"/>
<path d="M639.1 256.69H642.1" stroke="#4d4df2" stroke-width="3" fill="none"/>
<path d="M639.1 270.15H642.1" stroke="#4d4df2" stroke-width="3" fill="none"/>
<path d="M610.3 224.41V248.96M605.3 224.41H615.3M605.3 248.96H615.3" stroke="#ee6a74" stroke-width="1.2" fill="none"/>
<path d="M640.8 202.21V234.5M635.8 202.21H645.8M635.8 234.5H645.8" stroke="#4d4df2" stroke-width="1.2" fill="none"/>
<path d="M615.3 194.4H641.6M615.3 191.2V197.6M641.6 191.2V197.6" stroke="#222" stroke-width="1.3" fill="none"/>
<path d="M622.85 181.85L623.66 183.49L625.47 183.75L624.16 185.02L624.47 186.82L622.85 185.97L621.23 186.82L621.54 185.02L620.23 183.75L622.04 183.49ZM628.45 181.85L629.26 183.49L631.07 183.75L629.76 185.02L630.07 186.82L628.45 185.97L626.83 186.82L627.14 185.02L625.83 183.75L627.64 183.49ZM634.05 181.85L634.86 183.49L636.67 183.75L635.36 185.02L635.67 186.82L634.05 185.97L632.43 186.82L632.74 185.02L631.43 183.75L633.24 183.49Z" fill="#111"/>
<text x="564.1" y="231.9" text-anchor="middle" transform="rotate(-90 564.1 231.9)">MICAL2 SCORE</text>
<text x="522" y="296.9">Recurrence</text>
<text x="513" y="308.7">with metastasis</text>
<text x="610.2" y="297.6" text-anchor="middle">No</text>
<text x="640.9" y="297.6" text-anchor="middle">Yes</text>
<text x="595.2" y="310.8">(n=26)</text>
<text x="630.2" y="310.8">(n=34)</text>
<text x="6" y="332.4" font-size="16.8">F</text>
<path d="M55 334L70.7 334" stroke="#ee6a74" stroke-width="1.1"/>
<text x="74.4" y="337.6">high MICAL2 expression(n=62)</text>
<path d="M241.7 333.6L256 333.6" stroke="#4d4df2" stroke-width="1.1"/>
<text x="260.3" y="337.6" font-size="11.25">low MICAL2 expression</text>
<text x="385.5" y="338.4">(n=70)</text>
<path d="M40.9 377.7V452.2H137.8M37.7 452.2H40.9M37.7 414.95H40.9M37.7 377.7H40.9M40.9 452.2V455.4M60.28 452.2V455.4M79.66 452.2V455.4M99.04 452.2V455.4M118.42 452.2V455.4M137.8 452.2V455.4" stroke="#111" stroke-width="1.3" fill="none"/>
<text x="37.4" y="456.2" text-anchor="end">0</text>
<text x="37.4" y="418.95" text-anchor="end">50</text>
<text x="37.4" y="381.7" text-anchor="end">100</text>
<text x="40.9" y="467.6" text-anchor="middle">0</text>
<text x="60.28" y="467.6" text-anchor="middle">20</text>
<text x="79.66" y="467.6" text-anchor="middle">40</text>
<text x="99.04" y="467.6" text-anchor="middle">60</text>
<text x="118.42" y="467.6" text-anchor="middle">80</text>
<text x="137.8" y="467.6" text-anchor="middle">100</text>
<text x="89.35" y="476.2" text-anchor="middle">months</text>
<text x="16.1" y="414.5" text-anchor="middle" transform="rotate(-90 16.1 414.5)">Percent survival</text>
<text x="73.8" y="357.1" text-anchor="middle">Overall survival</text>
<text x="75.3" y="369.6" text-anchor="middle">(OS)</text>
<path d="M40.94 377.71 L125.73 377.71" stroke="#4d4df2" stroke-width="1.1" fill="none" stroke-linejoin="round"/>
<path d="M40.94 377.21 L71.13 377.21 L73.54 379.14 L83.18 379.94 L88 380.74 L90.4 387.17 L95.22 388.77 L97.63 390.38 L99.24 394.39 L106.46 395.19 L107.27 397.6 L112.89 398.41 L115.3 407.24 L117.7 412.06 L118.51 414.47 L123.33 414.47" stroke="#ee6a74" stroke-width="1" fill="none" stroke-linejoin="round"/>
<path d="M104 377.1H113.7" stroke="#4d4df2" stroke-width="2.6" fill="none"/>
<path d="M117 377.1H125.7" stroke="#4d4df2" stroke-width="2.6" fill="none"/>
<text x="45.5" y="441.8" font-style="italic">P</text>
<path d="M61.3 435.6L54.5 439.2L61.3 441.8" stroke="#222" stroke-width="0.8" fill="none"/>
<text x="63.8" y="441.8" font-style="italic">0.05</text>
<path d="M181.9 378V452.2H278.8M178.7 452.2H181.9M178.7 415.1H181.9M178.7 378H181.9M181.9 452.2V455.4M201.28 452.2V455.4M220.66 452.2V455.4M240.04 452.2V455.4M259.42 452.2V455.4M278.8 452.2V455.4" stroke="#111" stroke-width="1.3" fill="none"/>
<text x="177.5" y="456.2" text-anchor="end">0</text>
<text x="177.5" y="419.1" text-anchor="end">50</text>
<text x="177.5" y="382" text-anchor="end">100</text>
<text x="181.9" y="467.6" text-anchor="middle">0</text>
<text x="201.28" y="467.6" text-anchor="middle">20</text>
<text x="220.66" y="467.6" text-anchor="middle">40</text>
<text x="240.04" y="467.6" text-anchor="middle">60</text>
<text x="259.42" y="467.6" text-anchor="middle">80</text>
<text x="278.8" y="467.6" text-anchor="middle">100</text>
<text x="230.35" y="476.2" text-anchor="middle">months</text>
<text x="156.1" y="414.5" text-anchor="middle" transform="rotate(-90 156.1 414.5)">Percent survival</text>
<text x="219.4" y="354.9" text-anchor="middle">Disease-Free Survival</text>
<text x="225.6" y="367.6" text-anchor="middle">(DFS)</text>
<path d="M212.13 378.03 L247.46 378.03 L249.07 380.92 L251.48 383.65 L253.89 389.27 L260.31 389.59 L261.92 390.88 L264.33 394.09 L266.73 394.89" stroke="#4d4df2" stroke-width="1.1" fill="none" stroke-linejoin="round"/>
<path d="M181.94 377.53 L212.13 377.53 L214.54 379.46 L224.18 380.42 L229 381.06 L231.4 387.17 L236.22 389.09 L238.63 390.38 L240.24 395.19 L245.05 397.12 L246.66 398.41 L249.07 406.44 L250.19 416.07 L252.28 422.5 L253.89 425.71 L257.9 431.33 L261.11 436.15 L262.72 440.16 L265.13 440.16 L265.13 451.72" stroke="#ee6a74" stroke-width="1" fill="none" stroke-linejoin="round"/>
<text x="186.5" y="441.8" font-style="italic">P</text>
<path d="M202.3 435.6L195.5 439.2L202.3 441.8" stroke="#222" stroke-width="0.8" fill="none"/>
<text x="204.8" y="441.8" font-style="italic">0.05</text>
<path d="M320.9 379.2V452.7H417.8M317.7 452.7H320.9M317.7 415.95H320.9M317.7 379.2H320.9M320.9 452.7V455.9M340.28 452.7V455.9M359.66 452.7V455.9M379.04 452.7V455.9M398.42 452.7V455.9M417.8 452.7V455.9" stroke="#111" stroke-width="1.3" fill="none"/>
<text x="317.4" y="456.7" text-anchor="end">0</text>
<text x="317.4" y="419.95" text-anchor="end">50</text>
<text x="317.4" y="383.2" text-anchor="end">100</text>
<text x="320.9" y="467.6" text-anchor="middle">0</text>
<text x="340.28" y="467.6" text-anchor="middle">20</text>
<text x="359.66" y="467.6" text-anchor="middle">40</text>
<text x="379.04" y="467.6" text-anchor="middle">60</text>
<text x="398.42" y="467.6" text-anchor="middle">80</text>
<text x="417.8" y="467.6" text-anchor="middle">100</text>
<text x="369.35" y="476.2" text-anchor="middle">months</text>
<text x="296.9" y="414.5" text-anchor="middle" transform="rotate(-90 296.9 414.5)">Percent survival</text>
<text x="359" y="356.8" text-anchor="middle">Progression-Free Survival</text>
<text x="362" y="369.6" text-anchor="middle">( PFS )</text>
<path d="M351.13 379.15 L385.66 379.15 L387.27 385.26 L388.87 390.88 L391.28 396.5 L392.89 406.94 L398.51 407.26 L400.11 412.56 L402.52 421.39 L404.13 431.02 L404.93 445.48" stroke="#4d4df2" stroke-width="1.1" fill="none" stroke-linejoin="round"/>
<path d="M320.94 378.65 L351.13 378.65 L353.54 380.42 L363.18 381.06 L368 382.35 L370.4 388.77 L376.83 389.57 L379.24 394.39 L382.45 396.8 L384.86 397.6 L386.46 401.62 L388.87 412.86 L390.48 420.89 L393.37 432.93 L396.9 436.15 L398.51 438.55 L400.11 446.58 L404.13 451.4" stroke="#ee6a74" stroke-width="1" fill="none" stroke-linejoin="round"/>
<text x="325.5" y="441.8" font-style="italic">P</text>
<path d="M341.3 435.6L334.5 439.2L341.3 441.8" stroke="#222" stroke-width="0.8" fill="none"/>
<text x="343.8" y="441.8" font-style="italic">0.05</text>
<text x="432.5" y="336.8" font-size="16.8">G</text>
<path d="M497 332.4L508 332.4" stroke="#111" stroke-width="1.1"/>
<text x="511.9" y="336.3">CNE1</text>
<path d="M541 332.4L557 332.4" stroke="#111" stroke-width="1.1"/>
<path d="M567 333.2L580.8 333.2" stroke="#111" stroke-width="1.1"/>
<text x="584.9" y="337">CNE2</text>
<path d="M614.5 333.2L628.8 333.2" stroke="#111" stroke-width="1.1"/>
<text x="490.8" y="347.8" text-anchor="end">NC</text>
<text x="497.5" y="361.6" font-size="11.3" text-anchor="end">shMICAL2</text>
<text x="497.2" y="374.8" text-anchor="end">DMSO</text>
<text x="495.2" y="388.4" text-anchor="end">Erastin</text>
<path d="M502.5 345.2H507.9M505.2 342.5V347.9" stroke="#222" stroke-width="1.1" fill="none"/>
<path d="M518.8 345.2L524.8 345.2" stroke="#222" stroke-width="1.1"/>
<path d="M534.5 345.2H539.9M537.2 342.5V347.9" stroke="#222" stroke-width="1.1" fill="none"/>
<path d="M548.6 345.2L554.6 345.2" stroke="#222" stroke-width="1.1"/>
<path d="M569.5 345.2H574.9M572.2 342.5V347.9" stroke="#222" stroke-width="1.1" fill="none"/>
<path d="M584.9 345.2L590.9 345.2" stroke="#222" stroke-width="1.1"/>
<path d="M603 345.2H608.4M605.7 342.5V347.9" stroke="#222" stroke-width="1.1" fill="none"/>
<path d="M619 345.2L625 345.2" stroke="#222" stroke-width="1.1"/>
<path d="M502.2 357.8L508.2 357.8" stroke="#222" stroke-width="1.1"/>
<path d="M519.1 357.8H524.5M521.8 355.1V360.5" stroke="#222" stroke-width="1.1" fill="none"/>
<path d="M534.2 357.8L540.2 357.8" stroke="#222" stroke-width="1.1"/>
<path d="M548.9 357.8H554.3M551.6 355.1V360.5" stroke="#222" stroke-width="1.1" fill="none"/>
<path d="M569.2 357.8L575.2 357.8" stroke="#222" stroke-width="1.1"/>
<path d="M585.2 357.8H590.6M587.9 355.1V360.5" stroke="#222" stroke-width="1.1" fill="none"/>
<path d="M602.7 357.8L608.7 357.8" stroke="#222" stroke-width="1.1"/>
<path d="M619.3 357.8H624.7M622 355.1V360.5" stroke="#222" stroke-width="1.1" fill="none"/>
<path d="M502.5 371.2H507.9M505.2 368.5V373.9" stroke="#222" stroke-width="1.1" fill="none"/>
<path d="M519.1 371.2H524.5M521.8 368.5V373.9" stroke="#222" stroke-width="1.1" fill="none"/>
<path d="M534.2 371.2L540.2 371.2" stroke="#222" stroke-width="1.1"/>
<path d="M548.6 371.2L554.6 371.2" stroke="#222" stroke-width="1.1"/>
<path d="M569.5 371.2H574.9M572.2 368.5V373.9" stroke="#222" stroke-width="1.1" fill="none"/>
<path d="M585.2 371.2H590.6M587.9 368.5V373.9" stroke="#222" stroke-width="1.1" fill="none"/>
<path d="M602.7 371.2L608.7 371.2" stroke="#222" stroke-width="1.1"/>
<path d="M619 371.2L625 371.2" stroke="#222" stroke-width="1.1"/>
<path d="M502.2 385L508.2 385" stroke="#222" stroke-width="1.1"/>
<path d="M518.8 385L524.8 385" stroke="#222" stroke-width="1.1"/>
<path d="M534.5 385H539.9M537.2 382.3V387.7" stroke="#222" stroke-width="1.1" fill="none"/>
<path d="M548.9 385H554.3M551.6 382.3V387.7" stroke="#222" stroke-width="1.1" fill="none"/>
<path d="M569.2 385L575.2 385" stroke="#222" stroke-width="1.1"/>
<path d="M584.9 385L590.9 385" stroke="#222" stroke-width="1.1"/>
<path d="M603 385H608.4M605.7 382.3V387.7" stroke="#222" stroke-width="1.1" fill="none"/>
<path d="M619.3 385H624.7M622 382.3V387.7" stroke="#222" stroke-width="1.1" fill="none"/>
<rect x="492.1" y="392" width="68.8" height="14.6" fill="#d2d2d2" stroke="#1a1a1a" stroke-width="1.3"/>
<rect x="563" y="392" width="68.4" height="14.6" fill="#d2d2d2" stroke="#1a1a1a" stroke-width="1.3"/>
<text x="489.8" y="404.3" text-anchor="end">MICAL2</text>
<path d="M632.9 399.3L640.6 399.3" stroke="#111" stroke-width="1.1"/>
<text x="641.5" y="404.3">127kDa</text>
<rect x="492.1" y="408.2" width="68.8" height="14.7" fill="#d2d2d2" stroke="#1a1a1a" stroke-width="1.3"/>
<rect x="563" y="408.2" width="68.4" height="14.7" fill="#d2d2d2" stroke="#1a1a1a" stroke-width="1.3"/>
<text x="489.8" y="420.3" text-anchor="end">PTGS2</text>
<path d="M632.9 415.55L640.6 415.55" stroke="#111" stroke-width="1.1"/>
<text x="641.5" y="420.3">68kDa</text>
<rect x="492.1" y="425" width="68.8" height="14.4" fill="#d2d2d2" stroke="#1a1a1a" stroke-width="1.3"/>
<rect x="563" y="425" width="68.4" height="14.4" fill="#d2d2d2" stroke="#1a1a1a" stroke-width="1.3"/>
<text x="489.8" y="436.8" text-anchor="end">GPX4</text>
<path d="M632.9 432.2L640.6 432.2" stroke="#111" stroke-width="1.1"/>
<text x="641.5" y="436.8">22kDa</text>
<rect x="492.1" y="441" width="68.8" height="15.2" fill="#d2d2d2" stroke="#1a1a1a" stroke-width="1.3"/>
<rect x="563" y="441" width="68.4" height="15.2" fill="#d2d2d2" stroke="#1a1a1a" stroke-width="1.3"/>
<text x="489.8" y="453.3" text-anchor="end">FTH1</text>
<path d="M632.9 448.6L640.6 448.6" stroke="#111" stroke-width="1.1"/>
<text x="641.5" y="453.3">21kDa</text>
<rect x="492.1" y="458.3" width="68.8" height="14.8" fill="#d2d2d2" stroke="#1a1a1a" stroke-width="1.3"/>
<rect x="563" y="458.3" width="68.4" height="14.8" fill="#d2d2d2" stroke="#1a1a1a" stroke-width="1.3"/>
<text x="489.8" y="469.4" text-anchor="end">GAPDH</text>
<path d="M632.9 465.7L640.6 465.7" stroke="#111" stroke-width="1.1"/>
<text x="641.5" y="469.4">36kDa</text>
<g filter="url(#blur2)">
<rect x="492.9" y="396.4" width="18" height="4.4" rx="3.96" fill="#0a0a0a" fill-opacity="0.95"/>
<rect x="513.2" y="397.2" width="15" height="2.8" rx="2.52" fill="#0a0a0a" fill-opacity="0.81"/>
<rect x="529.25" y="396.9" width="15.5" height="3.4" rx="3.06" fill="#0a0a0a" fill-opacity="0.9"/>
<rect x="549.8" y="397.8" width="9" height="1.6" rx="1.44" fill="#0a0a0a" fill-opacity="0.38"/>
<rect x="566.1" y="396.7" width="14" height="3.8" rx="3.42" fill="#0a0a0a" fill-opacity="0.95"/>
<rect x="586.5" y="398.1" width="6" height="1" rx="0.9" fill="#0a0a0a" fill-opacity="0.1"/>
<rect x="597.9" y="397.2" width="15" height="2.8" rx="2.52" fill="#0a0a0a" fill-opacity="0.71"/>
<rect x="611.95" y="397.4" width="13.5" height="2.4" rx="2.16" fill="#0a0a0a" fill-opacity="0.52"/>
<rect x="496.2" y="414.8" width="12" height="1.6" rx="1.44" fill="#0a0a0a" fill-opacity="0.52"/>
<rect x="514.45" y="414" width="12.5" height="3.2" rx="2.88" fill="#0a0a0a" fill-opacity="0.95"/>
<rect x="530.5" y="414.1" width="14" height="3" rx="2.7" fill="#0a0a0a" fill-opacity="0.9"/>
<rect x="547" y="412.5" width="15" height="6.2" rx="5.58" fill="#0a0a0a" fill-opacity="0.95"/>
<rect x="567.6" y="414.6" width="12" height="2" rx="1.8" fill="#0a0a0a" fill-opacity="0.62"/>
<rect x="583" y="413.9" width="14" height="3.4" rx="3.06" fill="#0a0a0a" fill-opacity="0.9"/>
<rect x="599.9" y="414" width="13" height="3.2" rx="2.88" fill="#0a0a0a" fill-opacity="0.9"/>
<rect x="612.7" y="411.9" width="16" height="7.4" rx="6.66" fill="#0a0a0a" fill-opacity="0.95"/>
<rect x="493.2" y="430.1" width="18" height="5" rx="4.5" fill="#0a0a0a" fill-opacity="0.95"/>
<rect x="513.95" y="430.7" width="13.5" height="3.8" rx="3.42" fill="#0a0a0a" fill-opacity="0.95"/>
<rect x="531.25" y="431.7" width="11.5" height="1.8" rx="1.62" fill="#0a0a0a" fill-opacity="0.38"/>
<rect x="551.5" y="432.1" width="6" height="1" rx="0.9" fill="#0a0a0a" fill-opacity="0.14"/>
<rect x="566.6" y="430.3" width="15" height="4.6" rx="4.14" fill="#0a0a0a" fill-opacity="0.95"/>
<rect x="598.4" y="431.4" width="11" height="2.4" rx="2.16" fill="#0a0a0a" fill-opacity="0.66"/>
<rect x="614.7" y="431.65" width="11" height="1.9" rx="1.71" fill="#0a0a0a" fill-opacity="0.47"/>
<rect x="494.2" y="447" width="16" height="4" rx="3.6" fill="#0a0a0a" fill-opacity="0.95"/>
<rect x="514.95" y="447.5" width="13.5" height="3" rx="2.7" fill="#0a0a0a" fill-opacity="0.9"/>
<rect x="531.5" y="447.6" width="13" height="2.8" rx="2.52" fill="#0a0a0a" fill-opacity="0.85"/>
<rect x="567.6" y="446.9" width="14" height="4.2" rx="3.78" fill="#0a0a0a" fill-opacity="0.95"/>
<rect x="584.5" y="447.4" width="12" height="3.2" rx="2.88" fill="#0a0a0a" fill-opacity="0.95"/>
<rect x="598.9" y="447.8" width="12" height="2.4" rx="2.16" fill="#0a0a0a" fill-opacity="0.81"/>
<rect x="495.7" y="463.2" width="15" height="4.4" rx="3.96" fill="#0a0a0a" fill-opacity="0.95"/>
<rect x="514.2" y="463.2" width="14" height="4.4" rx="3.96" fill="#0a0a0a" fill-opacity="0.95"/>
<rect x="530.25" y="463.3" width="13.5" height="4.2" rx="3.78" fill="#0a0a0a" fill-opacity="0.95"/>
<rect x="546.5" y="463.2" width="14" height="4.4" rx="3.96" fill="#0a0a0a" fill-opacity="0.95"/>
<rect x="567.35" y="463.1" width="14.5" height="4.6" rx="4.14" fill="#0a0a0a" fill-opacity="0.95"/>
<rect x="583.5" y="463.1" width="14" height="4.6" rx="4.14" fill="#0a0a0a" fill-opacity="0.95"/>
<rect x="599.4" y="463.1" width="14" height="4.6" rx="4.14" fill="#0a0a0a" fill-opacity="0.95"/>
<rect x="615.2" y="463.1" width="13" height="4.6" rx="4.14" fill="#0a0a0a" fill-opacity="0.95"/>
</g>
<text x="6" y="493.6" font-size="16.8">H</text>
<path d="M36.7 499L161 499" stroke="#111" stroke-width="1.25"/>
<text x="162.5" y="502.9">CNE1</text>
<path d="M193.5 499L343.2 499" stroke="#111" stroke-width="1.25"/>
<path d="M377.8 499L502.2 499" stroke="#111" stroke-width="1.25"/>
<text x="503.5" y="502.9">CNE2</text>
<path d="M534.3 498.8L683.7 498.8" stroke="#111" stroke-width="1.25"/>
<text x="23.2" y="561.2" text-anchor="middle" transform="rotate(-90 23.2 561.2)">Cell viability (%)</text>
<text x="361.4" y="561.2" text-anchor="middle" transform="rotate(-90 361.4 561.2)">Cell viability (%)</text>
<circle cx="601.5" cy="487.8" r="2.0" fill="#ee6a74"/>
<text x="605.8" y="491.6">NC</text>
<rect x="623.5" y="485.9" width="3.6" height="3.6" fill="#4d4df2"/>
<text x="628" y="491.6">shMICAL2</text>
<path d="M53.3 514.2V602.8H172.5M50.1 602.8H53.3M50.1 573.27H53.3M50.1 543.73H53.3M50.1 514.2H53.3M62 602.8V606M83.1 602.8V606M104.2 602.8V606M125.25 602.8V606M146.2 602.8V606M166.6 602.8V606" stroke="#111" stroke-width="1.4" fill="none"/>
<text x="46.2" y="606.8" text-anchor="end">0</text>
<text x="46.2" y="577.27" text-anchor="end">50</text>
<text x="46.2" y="547.73" text-anchor="end">100</text>
<text x="46.2" y="518.2" text-anchor="end">150</text>
<path d="M55.7 602.8V543.73H60.3V602.8" stroke="#ee6a74" stroke-width="1.2" fill="none"/>
<circle cx="56.4" cy="542.93" r="1.25" fill="#ee6a74"/>
<circle cx="58" cy="542.13" r="1.25" fill="#ee6a74"/>
<circle cx="59.6" cy="543.33" r="1.25" fill="#ee6a74"/>
<path d="M63.7 602.8V543.73H68.3V602.8" stroke="#4d4df2" stroke-width="1.2" fill="none"/>
<circle cx="64.4" cy="542.93" r="1.25" fill="#4d4df2"/>
<circle cx="66" cy="542.13" r="1.25" fill="#4d4df2"/>
<circle cx="67.6" cy="543.33" r="1.25" fill="#4d4df2"/>
<path d="M76.8 602.8V574.45H81.4V602.8" stroke="#ee6a74" stroke-width="1.2" fill="none"/>
<circle cx="77.5" cy="573.65" r="1.25" fill="#ee6a74"/>
<circle cx="79.1" cy="572.85" r="1.25" fill="#ee6a74"/>
<circle cx="80.7" cy="574.05" r="1.25" fill="#ee6a74"/>
<path d="M84.8 602.8V580.35H89.4V602.8" stroke="#4d4df2" stroke-width="1.2" fill="none"/>
<circle cx="85.5" cy="579.55" r="1.25" fill="#4d4df2"/>
<circle cx="87.1" cy="578.75" r="1.25" fill="#4d4df2"/>
<circle cx="88.7" cy="579.95" r="1.25" fill="#4d4df2"/>
<path d="M97.9 602.8V566.18H102.5V602.8" stroke="#ee6a74" stroke-width="1.2" fill="none"/>
<circle cx="98.6" cy="565.38" r="1.25" fill="#ee6a74"/>
<circle cx="100.2" cy="564.58" r="1.25" fill="#ee6a74"/>
<circle cx="101.8" cy="565.78" r="1.25" fill="#ee6a74"/>
<path d="M105.9 602.8V569.72H110.5V602.8" stroke="#4d4df2" stroke-width="1.2" fill="none"/>
<circle cx="106.6" cy="568.92" r="1.25" fill="#4d4df2"/>
<circle cx="108.2" cy="568.12" r="1.25" fill="#4d4df2"/>
<circle cx="109.8" cy="569.32" r="1.25" fill="#4d4df2"/>
<path d="M118.95 602.8V568.54H123.55V602.8" stroke="#ee6a74" stroke-width="1.2" fill="none"/>
<circle cx="119.65" cy="567.74" r="1.25" fill="#ee6a74"/>
<circle cx="121.25" cy="566.94" r="1.25" fill="#ee6a74"/>
<circle cx="122.85" cy="568.14" r="1.25" fill="#ee6a74"/>
<path d="M126.95 602.8V574.45H131.55V602.8" stroke="#4d4df2" stroke-width="1.2" fill="none"/>
<circle cx="127.65" cy="573.65" r="1.25" fill="#4d4df2"/>
<circle cx="129.25" cy="572.85" r="1.25" fill="#4d4df2"/>
<circle cx="130.85" cy="574.05" r="1.25" fill="#4d4df2"/>
<path d="M139.9 602.8V575.04H144.5V602.8" stroke="#ee6a74" stroke-width="1.2" fill="none"/>
<circle cx="140.6" cy="574.24" r="1.25" fill="#ee6a74"/>
<circle cx="142.2" cy="573.44" r="1.25" fill="#ee6a74"/>
<circle cx="143.8" cy="574.64" r="1.25" fill="#ee6a74"/>
<path d="M147.9 602.8V580.35H152.5V602.8" stroke="#4d4df2" stroke-width="1.2" fill="none"/>
<circle cx="148.6" cy="579.55" r="1.25" fill="#4d4df2"/>
<circle cx="150.2" cy="578.75" r="1.25" fill="#4d4df2"/>
<circle cx="151.8" cy="579.95" r="1.25" fill="#4d4df2"/>
<path d="M160.3 602.8V576.81H164.9V602.8" stroke="#ee6a74" stroke-width="1.2" fill="none"/>
<circle cx="161" cy="576.01" r="1.25" fill="#ee6a74"/>
<circle cx="162.6" cy="575.21" r="1.25" fill="#ee6a74"/>
<circle cx="164.2" cy="576.41" r="1.25" fill="#ee6a74"/>
<path d="M168.3 602.8V583.31H172.9V602.8" stroke="#4d4df2" stroke-width="1.2" fill="none"/>
<circle cx="169" cy="582.51" r="1.25" fill="#4d4df2"/>
<circle cx="170.6" cy="581.71" r="1.25" fill="#4d4df2"/>
<circle cx="172.2" cy="582.91" r="1.25" fill="#4d4df2"/>
<path d="M86.4 520.1H130.6M86.4 516.5V523.7M130.6 516.5V523.7" stroke="#222" stroke-width="1.3" fill="none"/>
<path d="M103.4 511.75L104.09 513.15L105.63 513.37L104.52 514.46L104.78 516L103.4 515.27L102.02 516L102.28 514.46L101.17 513.37L102.71 513.15ZM108.5 511.75L109.19 513.15L110.73 513.37L109.62 514.46L109.88 516L108.5 515.27L107.12 516L107.38 514.46L106.27 513.37L107.81 513.15ZM113.6 511.75L114.29 513.15L115.83 513.37L114.72 514.46L114.98 516L113.6 515.27L112.22 516L112.48 514.46L111.37 513.37L112.91 513.15Z" fill="#111"/>
<path d="M78.1 530.8H123.6M78.1 527.2V534.4M123.6 527.2V534.4" stroke="#222" stroke-width="1.3" fill="none"/>
<path d="M100.85 522.45L101.54 523.85L103.08 524.07L101.97 525.16L102.23 526.7L100.85 525.97L99.47 526.7L99.73 525.16L98.62 524.07L100.16 523.85Z" fill="#111"/>
<path d="M86.4 542.2H109.6M86.4 538.6V545.8M109.6 538.6V545.8" stroke="#222" stroke-width="1.3" fill="none"/>
<path d="M90.35 533.85L91.04 535.25L92.58 535.47L91.47 536.56L91.73 538.1L90.35 537.38L88.97 538.1L89.23 536.56L88.12 535.47L89.66 535.25ZM95.45 533.85L96.14 535.25L97.68 535.47L96.57 536.56L96.83 538.1L95.45 537.38L94.07 538.1L94.33 536.56L93.22 535.47L94.76 535.25ZM100.55 533.85L101.24 535.25L102.78 535.47L101.67 536.56L101.93 538.1L100.55 537.38L99.17 538.1L99.43 536.56L98.32 535.47L99.86 535.25ZM105.65 533.85L106.34 535.25L107.88 535.47L106.77 536.56L107.03 538.1L105.65 537.38L104.27 538.1L104.53 536.56L103.42 535.47L104.96 535.25Z" fill="#111"/>
<path d="M78.5 555.4H99.5M78.5 551.8V559M99.5 551.8V559" stroke="#222" stroke-width="1.3" fill="none"/>
<path d="M86.45 547.05L87.14 548.45L88.68 548.67L87.57 549.76L87.83 551.3L86.45 550.57L85.07 551.3L85.33 549.76L84.22 548.67L85.76 548.45ZM91.55 547.05L92.24 548.45L93.78 548.67L92.67 549.76L92.93 551.3L91.55 550.57L90.17 551.3L90.43 549.76L89.32 548.67L90.86 548.45Z" fill="#111"/>
<path d="M78.5 566H88.1M78.5 562.4V569.6M88.1 562.4V569.6" stroke="#222" stroke-width="1.3" fill="none"/>
<path d="M83.3 557.65L83.99 559.05L85.53 559.27L84.42 560.36L84.68 561.9L83.3 561.17L81.92 561.9L82.18 560.36L81.07 559.27L82.61 559.05Z" fill="#111"/>
<text x="145.8" y="572.5" text-anchor="middle">ns</text>
<text x="166" y="572.5" text-anchor="middle">ns</text>
<text x="52.4" y="622.7" text-anchor="end">Erastin</text>
<text x="52.4" y="635.6" text-anchor="end">Fer-1</text>
<text x="52.4" y="648.3" text-anchor="end">Lipro-1</text>
<text x="52.4" y="661.9" text-anchor="end">ZVAD-</text>
<text x="19.5" y="675">FMK</text>
<text x="52.4" y="687.5" text-anchor="end">NSA</text>
<path d="M59.2 619.6L67.2 619.6" stroke="#222" stroke-width="1.1"/>
<path d="M81 619.9H86.6M83.8 617.1V622.7" stroke="#222" stroke-width="1.1" fill="none"/>
<path d="M101.4 619.9H107M104.2 617.1V622.7" stroke="#222" stroke-width="1.1" fill="none"/>
<path d="M122 619.9H127.6M124.8 617.1V622.7" stroke="#222" stroke-width="1.1" fill="none"/>
<path d="M143.1 619.9H148.7M145.9 617.1V622.7" stroke="#222" stroke-width="1.1" fill="none"/>
<path d="M162.7 619.9H168.3M165.5 617.1V622.7" stroke="#222" stroke-width="1.1" fill="none"/>
<path d="M59.2 632.3L67.2 632.3" stroke="#222" stroke-width="1.1"/>
<path d="M79.8 632.3L87.8 632.3" stroke="#222" stroke-width="1.1"/>
<path d="M101.4 632.6H107M104.2 629.8V635.4" stroke="#222" stroke-width="1.1" fill="none"/>
<path d="M120.8 632.3L128.8 632.3" stroke="#222" stroke-width="1.1"/>
<path d="M141.9 632.3L149.9 632.3" stroke="#222" stroke-width="1.1"/>
<path d="M161.5 632.3L169.5 632.3" stroke="#222" stroke-width="1.1"/>
<path d="M59.2 644.1L67.2 644.1" stroke="#222" stroke-width="1.1"/>
<path d="M79.8 644.1L87.8 644.1" stroke="#222" stroke-width="1.1"/>
<path d="M100.2 644.1L108.2 644.1" stroke="#222" stroke-width="1.1"/>
<path d="M122 644.4H127.6M124.8 641.6V647.2" stroke="#222" stroke-width="1.1" fill="none"/>
<path d="M141.9 644.1L149.9 644.1" stroke="#222" stroke-width="1.1"/>
<path d="M161.5 644.1L169.5 644.1" stroke="#222" stroke-width="1.1"/>
<path d="M59.2 664.8L67.2 664.8" stroke="#222" stroke-width="1.1"/>
<path d="M79.8 664.8L87.8 664.8" stroke="#222" stroke-width="1.1"/>
<path d="M100.2 664.8L108.2 664.8" stroke="#222" stroke-width="1.1"/>
<path d="M120.8 664.8L128.8 664.8" stroke="#222" stroke-width="1.1"/>
<path d="M143.1 665.1H148.7M145.9 662.3V667.9" stroke="#222" stroke-width="1.1" fill="none"/>
<path d="M161.5 664.8L169.5 664.8" stroke="#222" stroke-width="1.1"/>
<path d="M59.2 683.5L67.2 683.5" stroke="#222" stroke-width="1.1"/>
<path d="M79.8 683.5L87.8 683.5" stroke="#222" stroke-width="1.1"/>
<path d="M100.2 683.5L108.2 683.5" stroke="#222" stroke-width="1.1"/>
<path d="M120.8 683.5L128.8 683.5" stroke="#222" stroke-width="1.1"/>
<path d="M141.9 683.5L149.9 683.5" stroke="#222" stroke-width="1.1"/>
<path d="M162.7 683.8H168.3M165.5 681V686.6" stroke="#222" stroke-width="1.1" fill="none"/>
<path d="M219 514.6V602H339.9M215.8 602H219M215.8 572.87H219M215.8 543.73H219M215.8 514.6H219M228.9 602V605.2M249.7 602V605.2M270.2 602V605.2M291 602V605.2M311.6 602V605.2M332.5 602V605.2" stroke="#111" stroke-width="1.4" fill="none"/>
<text x="213.6" y="606" text-anchor="end">0</text>
<text x="213.6" y="576.87" text-anchor="end">50</text>
<text x="213.6" y="547.73" text-anchor="end">100</text>
<text x="213.6" y="518.6" text-anchor="end">150</text>
<path d="M222.6 602V543.73H227.2V602" stroke="#ee6a74" stroke-width="1.2" fill="none"/>
<circle cx="223.3" cy="542.93" r="1.25" fill="#ee6a74"/>
<circle cx="224.9" cy="542.13" r="1.25" fill="#ee6a74"/>
<circle cx="226.5" cy="543.33" r="1.25" fill="#ee6a74"/>
<path d="M230.6 602V543.73H235.2V602" stroke="#4d4df2" stroke-width="1.2" fill="none"/>
<circle cx="231.3" cy="542.93" r="1.25" fill="#4d4df2"/>
<circle cx="232.9" cy="542.13" r="1.25" fill="#4d4df2"/>
<circle cx="234.5" cy="543.33" r="1.25" fill="#4d4df2"/>
<path d="M243.4 602V591.51H248V602" stroke="#ee6a74" stroke-width="1.2" fill="none"/>
<circle cx="244.1" cy="590.71" r="1.25" fill="#ee6a74"/>
<circle cx="245.7" cy="589.91" r="1.25" fill="#ee6a74"/>
<circle cx="247.3" cy="591.11" r="1.25" fill="#ee6a74"/>
<path d="M251.4 602V593.84H256V602" stroke="#4d4df2" stroke-width="1.2" fill="none"/>
<circle cx="252.1" cy="593.04" r="1.25" fill="#4d4df2"/>
<circle cx="253.7" cy="592.24" r="1.25" fill="#4d4df2"/>
<circle cx="255.3" cy="593.44" r="1.25" fill="#4d4df2"/>
<path d="M263.9 602V581.61H268.5V602" stroke="#ee6a74" stroke-width="1.2" fill="none"/>
<circle cx="264.6" cy="580.81" r="1.25" fill="#ee6a74"/>
<circle cx="266.2" cy="580.01" r="1.25" fill="#ee6a74"/>
<circle cx="267.8" cy="581.21" r="1.25" fill="#ee6a74"/>
<path d="M271.9 602V582.77H276.5V602" stroke="#4d4df2" stroke-width="1.2" fill="none"/>
<circle cx="272.6" cy="581.97" r="1.25" fill="#4d4df2"/>
<circle cx="274.2" cy="581.17" r="1.25" fill="#4d4df2"/>
<circle cx="275.8" cy="582.37" r="1.25" fill="#4d4df2"/>
<path d="M284.7 602V585.69H289.3V602" stroke="#ee6a74" stroke-width="1.2" fill="none"/>
<circle cx="285.4" cy="584.89" r="1.25" fill="#ee6a74"/>
<circle cx="287" cy="584.09" r="1.25" fill="#ee6a74"/>
<circle cx="288.6" cy="585.29" r="1.25" fill="#ee6a74"/>
<path d="M292.7 602V588.6H297.3V602" stroke="#4d4df2" stroke-width="1.2" fill="none"/>
<circle cx="293.4" cy="587.8" r="1.25" fill="#4d4df2"/>
<circle cx="295" cy="587" r="1.25" fill="#4d4df2"/>
<circle cx="296.6" cy="588.2" r="1.25" fill="#4d4df2"/>
<path d="M305.3 602V587.43H309.9V602" stroke="#ee6a74" stroke-width="1.2" fill="none"/>
<circle cx="306" cy="586.63" r="1.25" fill="#ee6a74"/>
<circle cx="307.6" cy="585.83" r="1.25" fill="#ee6a74"/>
<circle cx="309.2" cy="587.03" r="1.25" fill="#ee6a74"/>
<path d="M313.3 602V591.51H317.9V602" stroke="#4d4df2" stroke-width="1.2" fill="none"/>
<circle cx="314" cy="590.71" r="1.25" fill="#4d4df2"/>
<circle cx="315.6" cy="589.91" r="1.25" fill="#4d4df2"/>
<circle cx="317.2" cy="591.11" r="1.25" fill="#4d4df2"/>
<path d="M326.2 602V591.51H330.8V602" stroke="#ee6a74" stroke-width="1.2" fill="none"/>
<circle cx="326.9" cy="590.71" r="1.25" fill="#ee6a74"/>
<circle cx="328.5" cy="589.91" r="1.25" fill="#ee6a74"/>
<circle cx="330.1" cy="591.11" r="1.25" fill="#ee6a74"/>
<path d="M334.2 602V593.26H338.8V602" stroke="#4d4df2" stroke-width="1.2" fill="none"/>
<circle cx="334.9" cy="592.46" r="1.25" fill="#4d4df2"/>
<circle cx="336.5" cy="591.66" r="1.25" fill="#4d4df2"/>
<circle cx="338.1" cy="592.86" r="1.25" fill="#4d4df2"/>
<path d="M252.3 510.8H316.9M252.3 507.2V514.4M316.9 507.2V514.4" stroke="#222" stroke-width="1.3" fill="none"/>
<path d="M282.05 502.45L282.74 503.85L284.28 504.07L283.17 505.16L283.43 506.7L282.05 505.98L280.67 506.7L280.93 505.16L279.82 504.07L281.36 503.85ZM287.15 502.45L287.84 503.85L289.38 504.07L288.27 505.16L288.53 506.7L287.15 505.98L285.77 506.7L286.03 505.16L284.92 504.07L286.46 503.85Z" fill="#111"/>
<path d="M243.6 522.3H314.4M243.6 518.7V525.9M314.4 518.7V525.9" stroke="#222" stroke-width="1.3" fill="none"/>
<path d="M276.45 513.95L277.14 515.35L278.68 515.57L277.57 516.66L277.83 518.2L276.45 517.47L275.07 518.2L275.33 516.66L274.22 515.57L275.76 515.35ZM281.55 513.95L282.24 515.35L283.78 515.57L282.67 516.66L282.93 518.2L281.55 517.47L280.17 518.2L280.43 516.66L279.32 515.57L280.86 515.35Z" fill="#111"/>
<path d="M254.3 535H295.7M254.3 531.4V538.6M295.7 531.4V538.6" stroke="#222" stroke-width="1.3" fill="none"/>
<path d="M272.45 526.65L273.14 528.05L274.68 528.27L273.57 529.36L273.83 530.9L272.45 530.17L271.07 530.9L271.33 529.36L270.22 528.27L271.76 528.05ZM277.55 526.65L278.24 528.05L279.78 528.27L278.67 529.36L278.93 530.9L277.55 530.17L276.17 530.9L276.43 529.36L275.32 528.27L276.86 528.05Z" fill="#111"/>
<path d="M244.6 546.5H287.5M244.6 542.9V550.1M287.5 542.9V550.1" stroke="#222" stroke-width="1.3" fill="none"/>
<path d="M266.05 538.15L266.74 539.55L268.28 539.77L267.17 540.86L267.43 542.4L266.05 541.67L264.67 542.4L264.93 540.86L263.82 539.77L265.36 539.55Z" fill="#111"/>
<path d="M253.8 556.8H274.8M253.8 553.2V560.4M274.8 553.2V560.4" stroke="#222" stroke-width="1.3" fill="none"/>
<path d="M264.3 548.45L264.99 549.85L266.53 550.07L265.42 551.16L265.68 552.7L264.3 551.97L262.92 552.7L263.18 551.16L262.07 550.07L263.61 549.85Z" fill="#111"/>
<path d="M244.9 570.8H266.6M244.9 567.2V574.4M266.6 567.2V574.4" stroke="#222" stroke-width="1.3" fill="none"/>
<path d="M250.65 562.45L251.34 563.85L252.88 564.07L251.77 565.16L252.03 566.7L250.65 565.97L249.27 566.7L249.53 565.16L248.42 564.07L249.96 563.85ZM255.75 562.45L256.44 563.85L257.98 564.07L256.87 565.16L257.13 566.7L255.75 565.97L254.37 566.7L254.63 565.16L253.52 564.07L255.06 563.85ZM260.85 562.45L261.54 563.85L263.08 564.07L261.97 565.16L262.23 566.7L260.85 565.97L259.47 566.7L259.73 565.16L258.62 564.07L260.16 563.85Z" fill="#111"/>
<path d="M245.4 583.6H254.8M245.4 580V587.2M254.8 580V587.2" stroke="#222" stroke-width="1.3" fill="none"/>
<path d="M250.1 575.25L250.79 576.65L252.33 576.87L251.22 577.96L251.48 579.5L250.1 578.77L248.72 579.5L248.98 577.96L247.87 576.87L249.41 576.65Z" fill="#111"/>
<text x="332.9" y="585" text-anchor="middle">ns</text>
<text x="221" y="622" text-anchor="end">Sorafenib</text>
<text x="221" y="634.8" text-anchor="end">Fer-1</text>
<text x="221" y="647.4" text-anchor="end">Lipro-1</text>
<text x="221" y="661.5" text-anchor="end">ZVAD-</text>
<text x="187.9" y="674.3">FMK</text>
<text x="221" y="687" text-anchor="end">NSA</text>
<path d="M227.7 618.7L235.7 618.7" stroke="#222" stroke-width="1.1"/>
<path d="M249 619H254.6M251.8 616.2V621.8" stroke="#222" stroke-width="1.1" fill="none"/>
<path d="M268.1 619H273.7M270.9 616.2V621.8" stroke="#222" stroke-width="1.1" fill="none"/>
<path d="M287.3 619H292.9M290.1 616.2V621.8" stroke="#222" stroke-width="1.1" fill="none"/>
<path d="M307.7 619H313.3M310.5 616.2V621.8" stroke="#222" stroke-width="1.1" fill="none"/>
<path d="M329.4 619H335M332.2 616.2V621.8" stroke="#222" stroke-width="1.1" fill="none"/>
<path d="M227.7 632.3L235.7 632.3" stroke="#222" stroke-width="1.1"/>
<path d="M247.8 632.3L255.8 632.3" stroke="#222" stroke-width="1.1"/>
<path d="M268.1 632.6H273.7M270.9 629.8V635.4" stroke="#222" stroke-width="1.1" fill="none"/>
<path d="M286.1 632.3L294.1 632.3" stroke="#222" stroke-width="1.1"/>
<path d="M306.5 632.3L314.5 632.3" stroke="#222" stroke-width="1.1"/>
<path d="M328.2 632.3L336.2 632.3" stroke="#222" stroke-width="1.1"/>
<path d="M227.7 643.8L235.7 643.8" stroke="#222" stroke-width="1.1"/>
<path d="M247.8 643.8L255.8 643.8" stroke="#222" stroke-width="1.1"/>
<path d="M266.9 643.8L274.9 643.8" stroke="#222" stroke-width="1.1"/>
<path d="M287.3 644.1H292.9M290.1 641.3V646.9" stroke="#222" stroke-width="1.1" fill="none"/>
<path d="M306.5 643.8L314.5 643.8" stroke="#222" stroke-width="1.1"/>
<path d="M328.2 643.8L336.2 643.8" stroke="#222" stroke-width="1.1"/>
<path d="M227.7 664.2L235.7 664.2" stroke="#222" stroke-width="1.1"/>
<path d="M247.8 664.2L255.8 664.2" stroke="#222" stroke-width="1.1"/>
<path d="M266.9 664.2L274.9 664.2" stroke="#222" stroke-width="1.1"/>
<path d="M286.1 664.2L294.1 664.2" stroke="#222" stroke-width="1.1"/>
<path d="M307.7 664.5H313.3M310.5 661.7V667.3" stroke="#222" stroke-width="1.1" fill="none"/>
<path d="M328.2 664.2L336.2 664.2" stroke="#222" stroke-width="1.1"/>
<path d="M227.7 683.4L235.7 683.4" stroke="#222" stroke-width="1.1"/>
<path d="M247.8 683.4L255.8 683.4" stroke="#222" stroke-width="1.1"/>
<path d="M266.9 683.4L274.9 683.4" stroke="#222" stroke-width="1.1"/>
<path d="M286.1 683.4L294.1 683.4" stroke="#222" stroke-width="1.1"/>
<path d="M306.5 683.4L314.5 683.4" stroke="#222" stroke-width="1.1"/>
<path d="M329.4 683.7H335M332.2 680.9V686.5" stroke="#222" stroke-width="1.1" fill="none"/>
<path d="M392.4 515.9V602.7H512M389.2 602.7H392.4M389.2 573.77H392.4M389.2 544.83H392.4M389.2 515.9H392.4M400.3 602.7V605.9M420.8 602.7V605.9M441.2 602.7V605.9M461.6 602.7V605.9M482.2 602.7V605.9M503 602.7V605.9" stroke="#111" stroke-width="1.4" fill="none"/>
<text x="386.2" y="606.7" text-anchor="end">0</text>
<text x="386.2" y="577.77" text-anchor="end">50</text>
<text x="386.2" y="548.83" text-anchor="end">100</text>
<text x="386.2" y="519.9" text-anchor="end">150</text>
<path d="M394 602.7V544.83H398.6V602.7" stroke="#ee6a74" stroke-width="1.2" fill="none"/>
<circle cx="394.7" cy="544.03" r="1.25" fill="#ee6a74"/>
<circle cx="396.3" cy="543.23" r="1.25" fill="#ee6a74"/>
<circle cx="397.9" cy="544.43" r="1.25" fill="#ee6a74"/>
<path d="M402 602.7V544.83H406.6V602.7" stroke="#4d4df2" stroke-width="1.2" fill="none"/>
<circle cx="402.7" cy="544.03" r="1.25" fill="#4d4df2"/>
<circle cx="404.3" cy="543.23" r="1.25" fill="#4d4df2"/>
<circle cx="405.9" cy="544.43" r="1.25" fill="#4d4df2"/>
<path d="M414.5 602.7V570.87H419.1V602.7" stroke="#ee6a74" stroke-width="1.2" fill="none"/>
<circle cx="415.2" cy="570.07" r="1.25" fill="#ee6a74"/>
<circle cx="416.8" cy="569.27" r="1.25" fill="#ee6a74"/>
<circle cx="418.4" cy="570.47" r="1.25" fill="#ee6a74"/>
<path d="M422.5 602.7V589.39H427.1V602.7" stroke="#4d4df2" stroke-width="1.2" fill="none"/>
<circle cx="423.2" cy="588.59" r="1.25" fill="#4d4df2"/>
<circle cx="424.8" cy="587.79" r="1.25" fill="#4d4df2"/>
<circle cx="426.4" cy="588.99" r="1.25" fill="#4d4df2"/>
<path d="M434.9 602.7V561.04H439.5V602.7" stroke="#ee6a74" stroke-width="1.2" fill="none"/>
<circle cx="435.6" cy="560.24" r="1.25" fill="#ee6a74"/>
<circle cx="437.2" cy="559.44" r="1.25" fill="#ee6a74"/>
<circle cx="438.8" cy="560.64" r="1.25" fill="#ee6a74"/>
<path d="M442.9 602.7V578.97H447.5V602.7" stroke="#4d4df2" stroke-width="1.2" fill="none"/>
<circle cx="443.6" cy="578.17" r="1.25" fill="#4d4df2"/>
<circle cx="445.2" cy="577.37" r="1.25" fill="#4d4df2"/>
<circle cx="446.8" cy="578.57" r="1.25" fill="#4d4df2"/>
<path d="M455.3 602.7V566.24H459.9V602.7" stroke="#ee6a74" stroke-width="1.2" fill="none"/>
<circle cx="456" cy="565.44" r="1.25" fill="#ee6a74"/>
<circle cx="457.6" cy="564.64" r="1.25" fill="#ee6a74"/>
<circle cx="459.2" cy="565.84" r="1.25" fill="#ee6a74"/>
<path d="M463.3 602.7V585.34H467.9V602.7" stroke="#4d4df2" stroke-width="1.2" fill="none"/>
<circle cx="464" cy="584.54" r="1.25" fill="#4d4df2"/>
<circle cx="465.6" cy="583.74" r="1.25" fill="#4d4df2"/>
<circle cx="467.2" cy="584.94" r="1.25" fill="#4d4df2"/>
<path d="M475.9 602.7V572.03H480.5V602.7" stroke="#ee6a74" stroke-width="1.2" fill="none"/>
<circle cx="476.6" cy="571.23" r="1.25" fill="#ee6a74"/>
<circle cx="478.2" cy="570.43" r="1.25" fill="#ee6a74"/>
<circle cx="479.8" cy="571.63" r="1.25" fill="#ee6a74"/>
<path d="M483.9 602.7V588.23H488.5V602.7" stroke="#4d4df2" stroke-width="1.2" fill="none"/>
<circle cx="484.6" cy="587.43" r="1.25" fill="#4d4df2"/>
<circle cx="486.2" cy="586.63" r="1.25" fill="#4d4df2"/>
<circle cx="487.8" cy="587.83" r="1.25" fill="#4d4df2"/>
<path d="M496.7 602.7V569.72H501.3V602.7" stroke="#ee6a74" stroke-width="1.2" fill="none"/>
<circle cx="497.4" cy="568.92" r="1.25" fill="#ee6a74"/>
<circle cx="499" cy="568.12" r="1.25" fill="#ee6a74"/>
<circle cx="500.6" cy="569.32" r="1.25" fill="#ee6a74"/>
<path d="M504.7 602.7V589.39H509.3V602.7" stroke="#4d4df2" stroke-width="1.2" fill="none"/>
<circle cx="505.4" cy="588.59" r="1.25" fill="#4d4df2"/>
<circle cx="507" cy="587.79" r="1.25" fill="#4d4df2"/>
<circle cx="508.6" cy="588.99" r="1.25" fill="#4d4df2"/>
<path d="M423 515.9H464.7M423 512.3V519.5M464.7 512.3V519.5" stroke="#222" stroke-width="1.3" fill="none"/>
<path d="M443.85 507.55L444.54 508.95L446.08 509.17L444.97 510.26L445.23 511.8L443.85 511.07L442.47 511.8L442.73 510.26L441.62 509.17L443.16 508.95Z" fill="#111"/>
<path d="M416.1 527.9H458.8M416.1 524.3V531.5M458.8 524.3V531.5" stroke="#222" stroke-width="1.3" fill="none"/>
<path d="M432.35 519.55L433.04 520.95L434.58 521.17L433.47 522.26L433.73 523.8L432.35 523.07L430.97 523.8L431.23 522.26L430.12 521.17L431.66 520.95ZM437.45 519.55L438.14 520.95L439.68 521.17L438.57 522.26L438.83 523.8L437.45 523.07L436.07 523.8L436.33 522.26L435.22 521.17L436.76 520.95ZM442.55 519.55L443.24 520.95L444.78 521.17L443.67 522.26L443.93 523.8L442.55 523.07L441.17 523.8L441.43 522.26L440.32 521.17L441.86 520.95Z" fill="#111"/>
<path d="M424.8 537.6H444.2M424.8 534V541.2M444.2 534V541.2" stroke="#222" stroke-width="1.3" fill="none"/>
<path d="M434.5 529.25L435.19 530.65L436.73 530.87L435.62 531.96L435.88 533.5L434.5 532.77L433.12 533.5L433.38 531.96L432.27 530.87L433.81 530.65Z" fill="#111"/>
<path d="M416.6 551.1H436.6M416.6 547.5V554.7M436.6 547.5V554.7" stroke="#222" stroke-width="1.3" fill="none"/>
<path d="M421.5 542.75L422.19 544.15L423.73 544.37L422.62 545.46L422.88 547L421.5 546.27L420.12 547L420.38 545.46L419.27 544.37L420.81 544.15ZM426.6 542.75L427.29 544.15L428.83 544.37L427.72 545.46L427.98 547L426.6 546.27L425.22 547L425.48 545.46L424.37 544.37L425.91 544.15ZM431.7 542.75L432.39 544.15L433.93 544.37L432.82 545.46L433.08 547L431.7 546.27L430.32 547L430.58 545.46L429.47 544.37L431.01 544.15Z" fill="#111"/>
<path d="M416.6 564.4H426.4M416.6 560.8V568M426.4 560.8V568" stroke="#222" stroke-width="1.3" fill="none"/>
<path d="M413.85 556.05L414.54 557.45L416.08 557.67L414.97 558.76L415.23 560.3L413.85 559.57L412.47 560.3L412.73 558.76L411.62 557.67L413.16 557.45ZM418.95 556.05L419.64 557.45L421.18 557.67L420.07 558.76L420.33 560.3L418.95 559.57L417.57 560.3L417.83 558.76L416.72 557.67L418.26 557.45ZM424.05 556.05L424.74 557.45L426.28 557.67L425.17 558.76L425.43 560.3L424.05 559.57L422.67 560.3L422.93 558.76L421.82 557.67L423.36 557.45ZM429.15 556.05L429.84 557.45L431.38 557.67L430.27 558.76L430.53 560.3L429.15 559.57L427.77 560.3L428.03 558.76L426.92 557.67L428.46 557.45Z" fill="#111"/>
<text x="479.3" y="565" text-anchor="middle">ns</text>
<text x="500.3" y="565" text-anchor="middle">ns</text>
<text x="384.3" y="621.8" text-anchor="end">Erastin</text>
<text x="384.3" y="634.5" text-anchor="end">Fer-1</text>
<text x="384.3" y="647.4" text-anchor="end">Lipro-1</text>
<text x="390" y="661.6" text-anchor="end">ZVAD-</text>
<text x="357.1" y="674.4">FMK</text>
<text x="390" y="687.5" text-anchor="end">NSA</text>
<path d="M396.7 618.2L404.7 618.2" stroke="#222" stroke-width="1.1"/>
<path d="M418.7 618.5H424.3M421.5 615.7V621.3" stroke="#222" stroke-width="1.1" fill="none"/>
<path d="M438.9 618.5H444.5M441.7 615.7V621.3" stroke="#222" stroke-width="1.1" fill="none"/>
<path d="M458.6 618.5H464.2M461.4 615.7V621.3" stroke="#222" stroke-width="1.1" fill="none"/>
<path d="M479.5 618.5H485.1M482.3 615.7V621.3" stroke="#222" stroke-width="1.1" fill="none"/>
<path d="M499.4 618.5H505M502.2 615.7V621.3" stroke="#222" stroke-width="1.1" fill="none"/>
<path d="M396.7 631.4L404.7 631.4" stroke="#222" stroke-width="1.1"/>
<path d="M417.5 631.4L425.5 631.4" stroke="#222" stroke-width="1.1"/>
<path d="M438.9 631.7H444.5M441.7 628.9V634.5" stroke="#222" stroke-width="1.1" fill="none"/>
<path d="M457.4 631.4L465.4 631.4" stroke="#222" stroke-width="1.1"/>
<path d="M478.3 631.4L486.3 631.4" stroke="#222" stroke-width="1.1"/>
<path d="M498.2 631.4L506.2 631.4" stroke="#222" stroke-width="1.1"/>
<path d="M396.7 643.2L404.7 643.2" stroke="#222" stroke-width="1.1"/>
<path d="M417.5 643.2L425.5 643.2" stroke="#222" stroke-width="1.1"/>
<path d="M437.7 643.2L445.7 643.2" stroke="#222" stroke-width="1.1"/>
<path d="M458.6 643.5H464.2M461.4 640.7V646.3" stroke="#222" stroke-width="1.1" fill="none"/>
<path d="M478.3 643.2L486.3 643.2" stroke="#222" stroke-width="1.1"/>
<path d="M498.2 643.2L506.2 643.2" stroke="#222" stroke-width="1.1"/>
<path d="M396.7 664.8L404.7 664.8" stroke="#222" stroke-width="1.1"/>
<path d="M417.5 664.8L425.5 664.8" stroke="#222" stroke-width="1.1"/>
<path d="M437.7 664.8L445.7 664.8" stroke="#222" stroke-width="1.1"/>
<path d="M457.4 664.8L465.4 664.8" stroke="#222" stroke-width="1.1"/>
<path d="M479.5 665.1H485.1M482.3 662.3V667.9" stroke="#222" stroke-width="1.1" fill="none"/>
<path d="M498.2 664.8L506.2 664.8" stroke="#222" stroke-width="1.1"/>
<path d="M396.7 683.5L404.7 683.5" stroke="#222" stroke-width="1.1"/>
<path d="M417.5 683.5L425.5 683.5" stroke="#222" stroke-width="1.1"/>
<path d="M437.7 683.5L445.7 683.5" stroke="#222" stroke-width="1.1"/>
<path d="M457.4 683.5L465.4 683.5" stroke="#222" stroke-width="1.1"/>
<path d="M478.3 683.5L486.3 683.5" stroke="#222" stroke-width="1.1"/>
<path d="M499.4 683.8H505M502.2 681V686.6" stroke="#222" stroke-width="1.1" fill="none"/>
<path d="M557.3 513.3V602.2H680.7M554.1 602.2H557.3M554.1 572.57H557.3M554.1 542.93H557.3M554.1 513.3H557.3M566.6 602.2V605.4M587.9 602.2V605.4M609 602.2V605.4M630.4 602.2V605.4M651.6 602.2V605.4M673.2 602.2V605.4" stroke="#111" stroke-width="1.4" fill="none"/>
<text x="551.2" y="606.2" text-anchor="end">0</text>
<text x="551.2" y="576.57" text-anchor="end">50</text>
<text x="551.2" y="546.93" text-anchor="end">100</text>
<text x="551.2" y="517.3" text-anchor="end">150</text>
<path d="M560.3 602.2V542.93H564.9V602.2" stroke="#ee6a74" stroke-width="1.2" fill="none"/>
<circle cx="561" cy="542.13" r="1.25" fill="#ee6a74"/>
<circle cx="562.6" cy="541.33" r="1.25" fill="#ee6a74"/>
<circle cx="564.2" cy="542.53" r="1.25" fill="#ee6a74"/>
<path d="M568.3 602.2V542.93H572.9V602.2" stroke="#4d4df2" stroke-width="1.2" fill="none"/>
<circle cx="569" cy="542.13" r="1.25" fill="#4d4df2"/>
<circle cx="570.6" cy="541.33" r="1.25" fill="#4d4df2"/>
<circle cx="572.2" cy="542.53" r="1.25" fill="#4d4df2"/>
<path d="M581.6 602.2V589.16H586.2V602.2" stroke="#ee6a74" stroke-width="1.2" fill="none"/>
<circle cx="582.3" cy="588.36" r="1.25" fill="#ee6a74"/>
<circle cx="583.9" cy="587.56" r="1.25" fill="#ee6a74"/>
<circle cx="585.5" cy="588.76" r="1.25" fill="#ee6a74"/>
<path d="M589.6 602.2V593.31H594.2V602.2" stroke="#4d4df2" stroke-width="1.2" fill="none"/>
<circle cx="590.3" cy="592.51" r="1.25" fill="#4d4df2"/>
<circle cx="591.9" cy="591.71" r="1.25" fill="#4d4df2"/>
<circle cx="593.5" cy="592.91" r="1.25" fill="#4d4df2"/>
<path d="M602.7 602.2V574.94H607.3V602.2" stroke="#ee6a74" stroke-width="1.2" fill="none"/>
<circle cx="603.4" cy="574.14" r="1.25" fill="#ee6a74"/>
<circle cx="605" cy="573.34" r="1.25" fill="#ee6a74"/>
<circle cx="606.6" cy="574.54" r="1.25" fill="#ee6a74"/>
<path d="M610.7 602.2V578.49H615.3V602.2" stroke="#4d4df2" stroke-width="1.2" fill="none"/>
<circle cx="611.4" cy="577.69" r="1.25" fill="#4d4df2"/>
<circle cx="613" cy="576.89" r="1.25" fill="#4d4df2"/>
<circle cx="614.6" cy="578.09" r="1.25" fill="#4d4df2"/>
<path d="M624.1 602.2V584.42H628.7V602.2" stroke="#ee6a74" stroke-width="1.2" fill="none"/>
<circle cx="624.8" cy="583.62" r="1.25" fill="#ee6a74"/>
<circle cx="626.4" cy="582.82" r="1.25" fill="#ee6a74"/>
<circle cx="628" cy="584.02" r="1.25" fill="#ee6a74"/>
<path d="M632.1 602.2V581.46H636.7V602.2" stroke="#4d4df2" stroke-width="1.2" fill="none"/>
<circle cx="632.8" cy="580.66" r="1.25" fill="#4d4df2"/>
<circle cx="634.4" cy="579.86" r="1.25" fill="#4d4df2"/>
<circle cx="636" cy="581.06" r="1.25" fill="#4d4df2"/>
<path d="M645.3 602.2V587.38H649.9V602.2" stroke="#ee6a74" stroke-width="1.2" fill="none"/>
<circle cx="646" cy="586.58" r="1.25" fill="#ee6a74"/>
<circle cx="647.6" cy="585.78" r="1.25" fill="#ee6a74"/>
<circle cx="649.2" cy="586.98" r="1.25" fill="#ee6a74"/>
<path d="M653.3 602.2V592.12H657.9V602.2" stroke="#4d4df2" stroke-width="1.2" fill="none"/>
<circle cx="654" cy="591.32" r="1.25" fill="#4d4df2"/>
<circle cx="655.6" cy="590.52" r="1.25" fill="#4d4df2"/>
<circle cx="657.2" cy="591.72" r="1.25" fill="#4d4df2"/>
<path d="M666.9 602.2V591.53H671.5V602.2" stroke="#ee6a74" stroke-width="1.2" fill="none"/>
<circle cx="667.6" cy="590.73" r="1.25" fill="#ee6a74"/>
<circle cx="669.2" cy="589.93" r="1.25" fill="#ee6a74"/>
<circle cx="670.8" cy="591.13" r="1.25" fill="#ee6a74"/>
<path d="M674.9 602.2V592.72H679.5V602.2" stroke="#4d4df2" stroke-width="1.2" fill="none"/>
<circle cx="675.6" cy="591.92" r="1.25" fill="#4d4df2"/>
<circle cx="677.2" cy="591.12" r="1.25" fill="#4d4df2"/>
<circle cx="678.8" cy="592.32" r="1.25" fill="#4d4df2"/>
<path d="M593.8 509.5H656.9M593.8 505.9V513.1M656.9 505.9V513.1" stroke="#222" stroke-width="1.3" fill="none"/>
<path d="M625.35 501.15L626.04 502.55L627.58 502.77L626.47 503.86L626.73 505.4L625.35 504.68L623.97 505.4L624.23 503.86L623.12 502.77L624.66 502.55Z" fill="#111"/>
<path d="M590.5 521H652.6M590.5 517.4V524.6M652.6 517.4V524.6" stroke="#222" stroke-width="1.3" fill="none"/>
<path d="M621.55 512.65L622.24 514.05L623.78 514.27L622.67 515.36L622.93 516.9L621.55 516.17L620.17 516.9L620.43 515.36L619.32 514.27L620.86 514.05Z" fill="#111"/>
<path d="M590.5 530.4H634.7M590.5 526.8V534M634.7 526.8V534" stroke="#222" stroke-width="1.3" fill="none"/>
<path d="M612.6 522.05L613.29 523.45L614.83 523.67L613.72 524.76L613.98 526.3L612.6 525.57L611.22 526.3L611.48 524.76L610.37 523.67L611.91 523.45Z" fill="#111"/>
<path d="M582.3 542.7H627.5M582.3 539.1V546.3M627.5 539.1V546.3" stroke="#222" stroke-width="1.3" fill="none"/>
<path d="M602.35 534.35L603.04 535.75L604.58 535.97L603.47 537.06L603.73 538.6L602.35 537.88L600.97 538.6L601.23 537.06L600.12 535.97L601.66 535.75ZM607.45 534.35L608.14 535.75L609.68 535.97L608.57 537.06L608.83 538.6L607.45 537.88L606.07 538.6L606.33 537.06L605.22 535.97L606.76 535.75Z" fill="#111"/>
<path d="M592.3 552.9H614.2M592.3 549.3V556.5M614.2 549.3V556.5" stroke="#222" stroke-width="1.3" fill="none"/>
<path d="M595.6 544.55L596.29 545.95L597.83 546.17L596.72 547.26L596.98 548.8L595.6 548.07L594.22 548.8L594.48 547.26L593.37 546.17L594.91 545.95ZM600.7 544.55L601.39 545.95L602.93 546.17L601.82 547.26L602.08 548.8L600.7 548.07L599.32 548.8L599.58 547.26L598.47 546.17L600.01 545.95ZM605.8 544.55L606.49 545.95L608.03 546.17L606.92 547.26L607.18 548.8L605.8 548.07L604.42 548.8L604.68 547.26L603.57 546.17L605.11 545.95ZM610.9 544.55L611.59 545.95L613.13 546.17L612.02 547.26L612.28 548.8L610.9 548.07L609.52 548.8L609.78 547.26L608.67 546.17L610.21 545.95Z" fill="#111"/>
<path d="M582.3 567.5H604.5M582.3 563.9V571.1M604.5 563.9V571.1" stroke="#222" stroke-width="1.3" fill="none"/>
<path d="M590.85 559.15L591.54 560.55L593.08 560.77L591.97 561.86L592.23 563.4L590.85 562.67L589.47 563.4L589.73 561.86L588.62 560.77L590.16 560.55ZM595.95 559.15L596.64 560.55L598.18 560.77L597.07 561.86L597.33 563.4L595.95 562.67L594.57 563.4L594.83 561.86L593.72 560.77L595.26 560.55Z" fill="#111"/>
<path d="M582.3 579.8H593M582.3 576.2V583.4M593 576.2V583.4" stroke="#222" stroke-width="1.3" fill="none"/>
<path d="M585.1 571.45L585.79 572.85L587.33 573.07L586.22 574.16L586.48 575.7L585.1 574.97L583.72 575.7L583.98 574.16L582.87 573.07L584.41 572.85ZM590.2 571.45L590.89 572.85L592.43 573.07L591.32 574.16L591.58 575.7L590.2 574.97L588.82 575.7L589.08 574.16L587.97 573.07L589.51 572.85Z" fill="#111"/>
<text x="672.9" y="587" text-anchor="middle">ns</text>
<text x="559.9" y="620.9" text-anchor="end">Sorafenib</text>
<text x="559.9" y="632.7" text-anchor="end">Fer-1</text>
<text x="559.9" y="645.9" text-anchor="end">Lipro-1</text>
<text x="559.4" y="661.2" text-anchor="end">ZVAD-</text>
<text x="526" y="674.4">FMK</text>
<text x="559.4" y="686.8" text-anchor="end">NSA</text>
<path d="M565.4 617.5L573.4 617.5" stroke="#222" stroke-width="1.1"/>
<path d="M586.9 617.8H592.5M589.7 615V620.6" stroke="#222" stroke-width="1.1" fill="none"/>
<path d="M605.5 617.8H611.1M608.3 615V620.6" stroke="#222" stroke-width="1.1" fill="none"/>
<path d="M625.7 617.8H631.3M628.5 615V620.6" stroke="#222" stroke-width="1.1" fill="none"/>
<path d="M646.7 617.8H652.3M649.5 615V620.6" stroke="#222" stroke-width="1.1" fill="none"/>
<path d="M671.7 617.8H677.3M674.5 615V620.6" stroke="#222" stroke-width="1.1" fill="none"/>
<path d="M565.4 630.3L573.4 630.3" stroke="#222" stroke-width="1.1"/>
<path d="M585.7 630.3L593.7 630.3" stroke="#222" stroke-width="1.1"/>
<path d="M605.5 630.6H611.1M608.3 627.8V633.4" stroke="#222" stroke-width="1.1" fill="none"/>
<path d="M624.5 630.3L632.5 630.3" stroke="#222" stroke-width="1.1"/>
<path d="M645.5 630.3L653.5 630.3" stroke="#222" stroke-width="1.1"/>
<path d="M670.5 630.3L678.5 630.3" stroke="#222" stroke-width="1.1"/>
<path d="M565.4 642.4L573.4 642.4" stroke="#222" stroke-width="1.1"/>
<path d="M585.7 642.4L593.7 642.4" stroke="#222" stroke-width="1.1"/>
<path d="M604.3 642.4L612.3 642.4" stroke="#222" stroke-width="1.1"/>
<path d="M625.7 642.7H631.3M628.5 639.9V645.5" stroke="#222" stroke-width="1.1" fill="none"/>
<path d="M645.5 642.4L653.5 642.4" stroke="#222" stroke-width="1.1"/>
<path d="M670.5 642.4L678.5 642.4" stroke="#222" stroke-width="1.1"/>
<path d="M565.4 664.5L573.4 664.5" stroke="#222" stroke-width="1.1"/>
<path d="M585.7 664.5L593.7 664.5" stroke="#222" stroke-width="1.1"/>
<path d="M604.3 664.5L612.3 664.5" stroke="#222" stroke-width="1.1"/>
<path d="M624.5 664.5L632.5 664.5" stroke="#222" stroke-width="1.1"/>
<path d="M646.7 664.8H652.3M649.5 662V667.6" stroke="#222" stroke-width="1.1" fill="none"/>
<path d="M670.5 664.5L678.5 664.5" stroke="#222" stroke-width="1.1"/>
<path d="M565.4 683.2L573.4 683.2" stroke="#222" stroke-width="1.1"/>
<path d="M585.7 683.2L593.7 683.2" stroke="#222" stroke-width="1.1"/>
<path d="M604.3 683.2L612.3 683.2" stroke="#222" stroke-width="1.1"/>
<path d="M624.5 683.2L632.5 683.2" stroke="#222" stroke-width="1.1"/>
<path d="M645.5 683.2L653.5 683.2" stroke="#222" stroke-width="1.1"/>
<path d="M671.7 683.5H677.3M674.5 680.7V686.3" stroke="#222" stroke-width="1.1" fill="none"/>
<text x="10.1" y="707.4" font-size="16.8">I</text>
<path d="M38.3 710.5L62.6 710.5" stroke="#111" stroke-width="1.25"/>
<text x="63.9" y="714.6">CNE1</text>
<path d="M95 710.5L118 710.5" stroke="#111" stroke-width="1.25"/>
<rect x="36.4" y="721.6" width="81.1" height="81.2" fill="none" stroke="#9a9a9a" stroke-width="0.8"/>
<path d="M36.4 721.6h1.4M36.4 726.68h1.4M36.4 731.75h1.4M36.4 736.83h1.4M36.4 741.9h1.4M36.4 746.98h1.4M36.4 752.05h1.4M36.4 757.12h1.4M36.4 762.2h1.4M36.4 767.27h1.4M36.4 772.35h1.4M36.4 777.42h1.4M36.4 782.5h1.4M36.4 787.57h1.4M36.4 792.65h1.4M36.4 797.72h1.4M36.4 802.8h1.4M36.4 802.8v-1.4M38.93 802.8v-1.4M41.47 802.8v-1.4M44 802.8v-1.4M46.54 802.8v-1.4M49.07 802.8v-1.4M51.61 802.8v-1.4M54.14 802.8v-1.4M56.67 802.8v-1.4M59.21 802.8v-1.4M61.74 802.8v-1.4M64.28 802.8v-1.4M66.81 802.8v-1.4M69.35 802.8v-1.4M71.88 802.8v-1.4M74.42 802.8v-1.4M76.95 802.8v-1.4M79.48 802.8v-1.4M82.02 802.8v-1.4M84.55 802.8v-1.4M87.09 802.8v-1.4M89.62 802.8v-1.4M92.16 802.8v-1.4M94.69 802.8v-1.4M97.22 802.8v-1.4M99.76 802.8v-1.4M102.29 802.8v-1.4M104.83 802.8v-1.4M107.36 802.8v-1.4M109.9 802.8v-1.4M112.43 802.8v-1.4M114.97 802.8v-1.4M117.5 802.8v-1.4" stroke="#777" stroke-width="0.6" fill="none"/>
<path d="M36.4 802.8H117.5" stroke="#555" stroke-width="0.9" fill="none"/>
<path d="M33.9 738.7L36.4 738.7" stroke="#333" stroke-width="0.9"/>
<text x="34" y="742.7" text-anchor="end">600</text>
<path d="M33.9 760.4L36.4 760.4" stroke="#333" stroke-width="0.9"/>
<text x="34" y="764.4" text-anchor="end">400</text>
<path d="M33.9 781.6L36.4 781.6" stroke="#333" stroke-width="0.9"/>
<text x="34" y="785.6" text-anchor="end">200</text>
<path d="M33.9 802.5L36.4 802.5" stroke="#333" stroke-width="0.9"/>
<text x="34" y="806.5" text-anchor="end">0</text>
<path d="M62 802.6 L62 802.59 L62.49 802.58 L62.97 802.57 L63.46 802.53 L63.94 802.47 L64.43 802.35 L64.91 802.15 L65.4 801.4 L65.89 800.82 L66.37 800.06 L66.86 798.11 L67.34 796.54 L67.83 792.78 L68.31 790.01 L68.8 783.08 L69.29 776.46 L69.77 769.6 L70.26 762.28 L70.74 751.02 L71.23 741.98 L71.71 735.57 L72.2 733.25 L72.69 730.76 L73.17 729.12 L73.66 725.33 L74.14 731.5 L74.63 737.67 L75.11 742.46 L75.6 753.84 L76.09 762.44 L76.57 767 L77.06 776.32 L77.54 782.13 L78.03 789.1 L78.51 792.8 L79 795.39 L79.49 797.33 L79.97 798.67 L80.46 799.16 L80.94 799.64 L81.43 799.27 L81.91 798.32 L82.4 798.05 L82.89 796.57 L83.37 796.46 L83.86 795.09 L84.34 793.55 L84.83 793.44 L85.31 791.5 L85.8 790.77 L86.29 791.84 L86.77 791.08 L87.26 791.86 L87.74 792.71 L88.23 792.76 L88.71 793.69 L89.2 795.16 L89.69 795.51 L90.17 797.14 L90.66 798.24 L91.14 798.85 L91.63 799.65 L92.11 800.61 L92.6 800.73 L93.09 801.07 L93.57 801.9 L94.06 802.12 L94.54 802.31 L95.03 802.42 L95.51 802.48 L96 802.53 L96 802.6Z" fill="#5fd8f0" fill-opacity="0.75" stroke="#40c8e8" stroke-width="0.8" stroke-linejoin="round"/>
<path d="M62 802.6 L62 802.59 L62.47 802.59 L62.93 802.58 L63.4 802.56 L63.87 802.52 L64.33 802.47 L64.8 802.38 L65.27 802.22 L65.73 802 L66.2 801.3 L66.67 800.62 L67.13 800.25 L67.6 799.08 L68.07 798.13 L68.53 795.66 L69 793.74 L69.47 791.07 L69.93 789 L70.4 785.08 L70.87 780.59 L71.33 776.35 L71.8 774.34 L72.27 769.37 L72.73 769.12 L73.2 766.21 L73.67 765.43 L74.13 764.37 L74.6 764.89 L75.07 763.63 L75.53 765.54 L76 768.81 L76.47 772.8 L76.93 776.03 L77.4 778.52 L77.87 781.93 L78.33 784.63 L78.8 786.18 L79.27 789.68 L79.73 792.75 L80.2 793.74 L80.67 795.8 L81.13 797.63 L81.6 798.39 L82.07 799.39 L82.53 800.58 L83 800.73 L83.47 801.54 L83.93 801.86 L84.4 802.11 L84.87 802.28 L85.33 802.39 L85.8 802.47 L86.27 802.52 L86.73 802.54 L87.2 802.57 L87.67 802.58 L88.13 802.59 L88.6 802.59 L89.07 802.6 L89.53 802.6 L90 802.6 L90 802.6Z" fill="#f07040" fill-opacity="0.8" stroke="#e05020" stroke-width="0.8" stroke-linejoin="round"/>
<path d="M64 802.6 L64 802.55 L64.53 802.52 L65.07 802.47 L65.6 802.38 L66.13 802.27 L66.67 802.13 L67.2 801.56 L67.73 801.18 L68.27 800.88 L68.8 800.22 L69.33 799.04 L69.87 798.29 L70.4 797.06 L70.93 795.51 L71.47 793.31 L72 790.72 L72.53 788.96 L73.07 786.4 L73.6 781.89 L74.13 778.92 L74.67 778.23 L75.2 774.58 L75.73 770.43 L76.27 768.34 L76.8 769.54 L77.33 766.06 L77.87 767.64 L78.4 768.88 L78.93 766.76 L79.47 768.33 L80 773 L80.53 773.63 L81.07 774.27 L81.6 777.02 L82.13 779.69 L82.67 781.57 L83.2 785.45 L83.73 787.57 L84.27 789.27 L84.8 792.35 L85.33 793.33 L85.87 794.68 L86.4 796.32 L86.93 797.25 L87.47 798.59 L88 799.41 L88.53 800.08 L89.07 800.72 L89.6 801.11 L90.13 801.35 L90.67 801.93 L91.2 802.12 L91.73 802.27 L92.27 802.36 L92.8 802.43 L93.33 802.49 L93.87 802.52 L94.4 802.55 L94.93 802.57 L95.47 802.58 L96 802.59 L96 802.6Z" fill="#b8d84a" fill-opacity="0.75" stroke="#70e040" stroke-width="0.8" stroke-linejoin="round"/>
<path d="M70 802.6 L70 802.57 L70.57 802.54 L71.14 802.51 L71.71 802.47 L72.29 802.42 L72.86 802.32 L73.43 802.19 L74 801.9 L74.57 801.26 L75.14 801.35 L75.71 800.86 L76.29 800.36 L76.86 799.41 L77.43 798.98 L78 798.39 L78.57 797.03 L79.14 795.53 L79.71 794.1 L80.29 792.71 L80.86 790.86 L81.43 788.86 L82 786.25 L82.57 785.79 L83.14 783.49 L83.71 781.46 L84.29 780.12 L84.86 778.25 L85.43 776.48 L86 776.03 L86.57 775.02 L87.14 775.74 L87.71 775.89 L88.29 776.49 L88.86 779.22 L89.43 781.07 L90 781.55 L90.57 783.91 L91.14 786.95 L91.71 788.45 L92.29 790.02 L92.86 791.91 L93.43 793.42 L94 794.98 L94.57 796.52 L95.14 797.27 L95.71 798.31 L96.29 798.98 L96.86 800.16 L97.43 799.98 L98 799.6 L98.57 799.34 L99.14 798.63 L99.71 798.32 L100.29 798.02 L100.86 797.92 L101.43 798.84 L102 799.61 L102.57 800.25 L103.14 800.36 L103.71 800.59 L104.29 800.82 L104.86 801.05 L105.43 801.27 L106 801.43 L106.57 801.42 L107.14 802.18 L107.71 802.35 L108.29 802.44 L108.86 802.52 L109.43 802.56 L110 802.58 L110 802.6Z" fill="#6f9a4a" fill-opacity="0.55" stroke="#3f7a20" stroke-width="0.8" stroke-linejoin="round"/>
<path d="M76.8 739.5H117M76.8 737.9V741.1M117 737.9V741.1" stroke="#1a1a1a" stroke-width="1.3" fill="none"/>
<text x="86.7" y="736.2">ROS</text>
<text x="25" y="819" font-size="11.3">10</text>
<text x="37.4" y="813.6" font-size="8.2">0</text>
<text x="44.55" y="819" font-size="11.3">10</text>
<text x="56.95" y="813.6" font-size="8.2">1</text>
<text x="64.1" y="819" font-size="11.3">10</text>
<text x="76.5" y="813.6" font-size="8.2">2</text>
<text x="83.65" y="819" font-size="11.3">10</text>
<text x="96.05" y="813.6" font-size="8.2">3</text>
<text x="103.2" y="819" font-size="11.3">10</text>
<text x="115.6" y="813.6" font-size="8.2">4</text>
<text x="9.7" y="768" text-anchor="middle" transform="rotate(-90 9.7 768)">Count</text>
<text x="76.2" y="832.1" text-anchor="middle">FITC-H</text>
<path d="M141.8 710.2L167.4 710.2" stroke="#111" stroke-width="1.25"/>
<text x="168.7" y="714.3">CNE2</text>
<path d="M199.8 710.2L222.8 710.2" stroke="#111" stroke-width="1.25"/>
<rect x="141.9" y="722.5" width="80.2" height="80" fill="none" stroke="#9a9a9a" stroke-width="0.8"/>
<path d="M141.9 722.5h1.4M141.9 727.5h1.4M141.9 732.5h1.4M141.9 737.5h1.4M141.9 742.5h1.4M141.9 747.5h1.4M141.9 752.5h1.4M141.9 757.5h1.4M141.9 762.5h1.4M141.9 767.5h1.4M141.9 772.5h1.4M141.9 777.5h1.4M141.9 782.5h1.4M141.9 787.5h1.4M141.9 792.5h1.4M141.9 797.5h1.4M141.9 802.5h1.4M141.9 802.5v-1.4M144.41 802.5v-1.4M146.91 802.5v-1.4M149.42 802.5v-1.4M151.93 802.5v-1.4M154.43 802.5v-1.4M156.94 802.5v-1.4M159.44 802.5v-1.4M161.95 802.5v-1.4M164.46 802.5v-1.4M166.96 802.5v-1.4M169.47 802.5v-1.4M171.97 802.5v-1.4M174.48 802.5v-1.4M176.99 802.5v-1.4M179.49 802.5v-1.4M182 802.5v-1.4M184.51 802.5v-1.4M187.01 802.5v-1.4M189.52 802.5v-1.4M192.03 802.5v-1.4M194.53 802.5v-1.4M197.04 802.5v-1.4M199.54 802.5v-1.4M202.05 802.5v-1.4M204.56 802.5v-1.4M207.06 802.5v-1.4M209.57 802.5v-1.4M212.07 802.5v-1.4M214.58 802.5v-1.4M217.09 802.5v-1.4M219.59 802.5v-1.4M222.1 802.5v-1.4" stroke="#777" stroke-width="0.6" fill="none"/>
<path d="M141.9 802.5H222.1" stroke="#555" stroke-width="0.9" fill="none"/>
<path d="M139.4 730.5L141.9 730.5" stroke="#333" stroke-width="0.9"/>
<text x="139.6" y="734.5" text-anchor="end">600</text>
<path d="M139.4 754L141.9 754" stroke="#333" stroke-width="0.9"/>
<text x="139.6" y="758" text-anchor="end">400</text>
<path d="M139.4 778.3L141.9 778.3" stroke="#333" stroke-width="0.9"/>
<text x="139.6" y="782.3" text-anchor="end">200</text>
<path d="M139.4 802.5L141.9 802.5" stroke="#333" stroke-width="0.9"/>
<text x="139.6" y="806.5" text-anchor="end">0</text>
<path d="M166 802.6 L166 802.6 L166.5 802.6 L167 802.6 L167.5 802.59 L168 802.58 L168.5 802.56 L169 802.52 L169.5 802.45 L170 802.3 L170.5 801.99 L171 801.53 L171.5 800.37 L172 799.25 L172.5 797.16 L173 794.79 L173.5 790.72 L174 786.3 L174.5 779.96 L175 771.01 L175.5 765.59 L176 754.16 L176.5 744.93 L177 736.21 L177.5 733.64 L178 727.4 L178.5 726.75 L179 728.82 L179.5 726.17 L180 728.81 L180.5 736.15 L181 741.99 L181.5 744.12 L182 753.69 L182.5 758.74 L183 763.26 L183.5 771.39 L184 776.27 L184.5 779.75 L185 783.66 L185.5 787.71 L186 791.73 L186.5 793.54 L187 795.69 L187.5 797.45 L188 798.73 L188.5 799.82 L189 800.77 L189.5 801.39 L190 801.74 L190.5 802.05 L191 802.22 L191.5 802.34 L192 802.45 L192.5 802.5 L193 802.54 L193.5 802.56 L194 802.58 L194.5 802.59 L195 802.59 L195.5 802.6 L196 802.6 L196 802.6Z" fill="#f0a060" fill-opacity="0.8" stroke="#f08030" stroke-width="0.8" stroke-linejoin="round"/>
<path d="M166 802.6 L166 802.6 L166.53 802.6 L167.07 802.6 L167.6 802.6 L168.13 802.6 L168.67 802.6 L169.2 802.59 L169.73 802.57 L170.27 802.55 L170.8 802.49 L171.33 802.39 L171.87 802.17 L172.4 801.85 L172.93 800.7 L173.47 800.36 L174 798.87 L174.53 797.18 L175.07 794.4 L175.6 790.05 L176.13 785.64 L176.67 778.8 L177.2 771.68 L177.73 763.99 L178.27 756.93 L178.8 751.73 L179.33 744.5 L179.87 739.85 L180.4 742.94 L180.93 738.77 L181.47 743.77 L182 742.92 L182.53 744.63 L183.07 751.72 L183.6 758.45 L184.13 761.63 L184.67 767.02 L185.2 769.03 L185.73 773.29 L186.27 779.13 L186.8 784.36 L187.33 787.01 L187.87 789.74 L188.4 792.61 L188.93 795.23 L189.47 796.96 L190 797.88 L190.53 799.23 L191.07 799.92 L191.6 800.68 L192.13 801.54 L192.67 801.89 L193.2 802.12 L193.73 802.26 L194.27 802.39 L194.8 802.47 L195.33 802.51 L195.87 802.55 L196.4 802.57 L196.93 802.58 L197.47 802.59 L198 802.59 L198 802.6Z" fill="#f05a4a" fill-opacity="0.55" stroke="#e03020" stroke-width="0.8" stroke-linejoin="round"/>
<path d="M176 802.6 L176 802.37 L176.5 802.25 L177 801.52 L177.5 801.83 L178 801.29 L178.5 800.93 L179 800.37 L179.5 799.97 L180 799.29 L180.5 798.19 L181 796.93 L181.5 796.18 L182 794.66 L182.5 793.14 L183 792.09 L183.5 789.52 L184 788.37 L184.5 786.34 L185 784.42 L185.5 783.1 L186 782.07 L186.5 780.12 L187 778.7 L187.5 777.75 L188 777.48 L188.5 777.74 L189 777.44 L189.5 780.75 L190 779.97 L190.5 780.71 L191 782.93 L191.5 784.05 L192 785.97 L192.5 787.48 L193 789.49 L193.5 790.54 L194 791.86 L194.5 794.16 L195 794.9 L195.5 796.44 L196 797.65 L196.5 797.89 L197 799.12 L197.5 799.86 L198 800.32 L198.5 800.54 L199 801.05 L199.5 801.55 L200 801.68 L200.5 802.14 L201 802.28 L201.5 802.35 L202 802.44 L202.5 802.49 L203 802.52 L203.5 802.55 L204 802.56 L204.5 802.58 L205 802.58 L205.5 802.59 L206 802.59 L206 802.6Z" fill="#a8e040" fill-opacity="0.6" stroke="#60f030" stroke-width="0.8" stroke-linejoin="round"/>
<path d="M186 802.6 L186 802.57 L186.49 802.56 L186.97 802.54 L187.46 802.51 L187.94 802.47 L188.43 802.43 L188.91 802.36 L189.4 802.29 L189.89 802.16 L190.37 801.55 L190.86 801.6 L191.34 801.19 L191.83 800.81 L192.31 800.37 L192.8 799.87 L193.29 799.67 L193.77 798.93 L194.26 798.32 L194.74 797.29 L195.23 796.78 L195.71 794.9 L196.2 793.71 L196.69 792.43 L197.17 790.83 L197.66 789.16 L198.14 788.74 L198.63 786.05 L199.11 784.02 L199.6 782.96 L200.09 781.1 L200.57 781.35 L201.06 781.42 L201.54 779.34 L202.03 778.19 L202.51 777.19 L203 779.59 L203.49 779.62 L203.97 778.52 L204.46 780.65 L204.94 779.45 L205.43 782.18 L205.91 783.45 L206.4 784.67 L206.89 786.23 L207.37 787.79 L207.86 788.08 L208.34 789.24 L208.83 790.98 L209.31 792.55 L209.8 793.25 L210.29 793.85 L210.77 794.88 L211.26 794.75 L211.74 796.07 L212.23 796.05 L212.71 797.01 L213.2 797.76 L213.69 797.72 L214.17 798.26 L214.66 799.22 L215.14 799.59 L215.63 800.11 L216.11 800.46 L216.6 801.17 L217.09 801.36 L217.57 801.38 L218.06 802.14 L218.54 802.28 L219.03 802.39 L219.51 802.46 L220 802.52 L220 802.6Z" fill="#6f9a4a" fill-opacity="0.55" stroke="#3f7a20" stroke-width="0.8" stroke-linejoin="round"/>
<path d="M181.7 740.4H221.8M181.7 738.8V742M221.8 738.8V742" stroke="#1a1a1a" stroke-width="1.3" fill="none"/>
<text x="190.7" y="737.4">ROS</text>
<text x="131.4" y="819" font-size="11.3">10</text>
<text x="143.8" y="813.6" font-size="8.2">0</text>
<text x="150.95" y="819" font-size="11.3">10</text>
<text x="163.35" y="813.6" font-size="8.2">1</text>
<text x="170.5" y="819" font-size="11.3">10</text>
<text x="182.9" y="813.6" font-size="8.2">2</text>
<text x="190.05" y="819" font-size="11.3">10</text>
<text x="202.45" y="813.6" font-size="8.2">3</text>
<text x="209.6" y="819" font-size="11.3">10</text>
<text x="222" y="813.6" font-size="8.2">4</text>
<text x="181.3" y="830.8" text-anchor="middle">FITC-H</text>
<path d="M249 709.8L270.1 709.8" stroke="#111" stroke-width="1.25"/>
<text x="272" y="714">C666-1</text>
<path d="M311.5 709.8L331.5 709.8" stroke="#111" stroke-width="1.25"/>
<rect x="249.3" y="722.1" width="82" height="81.3" fill="none" stroke="#9a9a9a" stroke-width="0.8"/>
<path d="M249.3 722.1h1.4M249.3 727.18h1.4M249.3 732.26h1.4M249.3 737.34h1.4M249.3 742.42h1.4M249.3 747.51h1.4M249.3 752.59h1.4M249.3 757.67h1.4M249.3 762.75h1.4M249.3 767.83h1.4M249.3 772.91h1.4M249.3 777.99h1.4M249.3 783.08h1.4M249.3 788.16h1.4M249.3 793.24h1.4M249.3 798.32h1.4M249.3 803.4h1.4M249.3 803.4v-1.4M251.86 803.4v-1.4M254.43 803.4v-1.4M256.99 803.4v-1.4M259.55 803.4v-1.4M262.11 803.4v-1.4M264.68 803.4v-1.4M267.24 803.4v-1.4M269.8 803.4v-1.4M272.36 803.4v-1.4M274.93 803.4v-1.4M277.49 803.4v-1.4M280.05 803.4v-1.4M282.61 803.4v-1.4M285.18 803.4v-1.4M287.74 803.4v-1.4M290.3 803.4v-1.4M292.86 803.4v-1.4M295.43 803.4v-1.4M297.99 803.4v-1.4M300.55 803.4v-1.4M303.11 803.4v-1.4M305.68 803.4v-1.4M308.24 803.4v-1.4M310.8 803.4v-1.4M313.36 803.4v-1.4M315.93 803.4v-1.4M318.49 803.4v-1.4M321.05 803.4v-1.4M323.61 803.4v-1.4M326.18 803.4v-1.4M328.74 803.4v-1.4M331.3 803.4v-1.4" stroke="#777" stroke-width="0.6" fill="none"/>
<path d="M249.3 803.4H331.3" stroke="#555" stroke-width="0.9" fill="none"/>
<path d="M246.8 735.6L249.3 735.6" stroke="#333" stroke-width="0.9"/>
<text x="246.8" y="739.6" text-anchor="end">400</text>
<path d="M246.8 752.7L249.3 752.7" stroke="#333" stroke-width="0.9"/>
<text x="246.8" y="756.7" text-anchor="end">300</text>
<path d="M246.8 769.8L249.3 769.8" stroke="#333" stroke-width="0.9"/>
<text x="246.8" y="773.8" text-anchor="end">200</text>
<path d="M246.8 786.7L249.3 786.7" stroke="#333" stroke-width="0.9"/>
<text x="246.8" y="790.7" text-anchor="end">100</text>
<path d="M246.8 803L249.3 803" stroke="#333" stroke-width="0.9"/>
<text x="246.8" y="807" text-anchor="end">0</text>
<path d="M250 802.6 L250 801.44 L250.57 801.37 L251.14 800.59 L251.71 800.31 L252.29 799.99 L252.86 800.15 L253.43 799.75 L254 799.26 L254.57 799.64 L255.14 799.6 L255.71 799.74 L256.29 799.56 L256.86 799.58 L257.43 799.63 L258 799.48 L258.57 798.18 L259.14 797.3 L259.71 796.04 L260.29 794.37 L260.86 791.46 L261.43 788.94 L262 785.83 L262.57 783.45 L263.14 780.18 L263.71 775.93 L264.29 771.34 L264.86 767.93 L265.43 758.55 L266 755.37 L266.57 760.08 L267.14 749.06 L267.71 750.06 L268.29 752.81 L268.86 752.28 L269.43 748.16 L270 750.54 L270.57 755.19 L271.14 758.98 L271.71 762.15 L272.29 770.85 L272.86 772.79 L273.43 775.51 L274 778.05 L274.57 782.49 L275.14 787.17 L275.71 788.93 L276.29 793.71 L276.86 794.87 L277.43 797.39 L278 797.86 L278.57 799.65 L279.14 800.41 L279.71 800.91 L280.29 801.4 L280.86 801.5 L281.43 802.11 L282 802.33 L282.57 802.43 L283.14 802.48 L283.71 802.52 L284.29 802.56 L284.86 802.57 L285.43 802.58 L286 802.59 L286.57 802.59 L287.14 802.6 L287.71 802.6 L288.29 802.6 L288.86 802.6 L289.43 802.6 L290 802.6 L290 802.6Z" fill="#e8a0a0" fill-opacity="0.5" stroke="#e07878" stroke-width="0.8" stroke-linejoin="round"/>
<path d="M258 802.6 L258 802.58 L258.45 802.56 L258.9 802.54 L259.35 802.49 L259.8 802.4 L260.25 802.29 L260.7 802.09 L261.15 801.85 L261.6 801.41 L262.05 800.24 L262.5 799.7 L262.95 798.37 L263.4 796.67 L263.85 794.82 L264.3 792.18 L264.75 789.02 L265.2 785.19 L265.65 778.5 L266.1 773.02 L266.55 766.72 L267 763.23 L267.45 753.8 L267.9 747.04 L268.35 739.59 L268.8 733.83 L269.25 731.66 L269.7 727.61 L270.15 725.2 L270.6 725.46 L271.05 731.35 L271.5 731.37 L271.95 736.26 L272.4 737.95 L272.85 744.04 L273.3 748.67 L273.75 749.18 L274.2 756.93 L274.65 762.02 L275.1 766.19 L275.55 771.66 L276 778.07 L276.45 782.88 L276.9 786.07 L277.35 788.91 L277.8 791.76 L278.25 794.19 L278.7 795.86 L279.15 797.65 L279.6 798.76 L280.05 799.57 L280.5 800.16 L280.95 801.25 L281.4 801.57 L281.85 801.88 L282.3 802.1 L282.75 802.28 L283.2 802.39 L283.65 802.45 L284.1 802.51 L284.55 802.54 L285 802.56 L285 802.6Z" fill="#b0b050" fill-opacity="0.65" stroke="#80e040" stroke-width="0.8" stroke-linejoin="round"/>
<path d="M258 802.6 L258 802.57 L258.47 802.55 L258.93 802.52 L259.4 802.46 L259.87 802.38 L260.33 802.26 L260.8 802.01 L261.27 801.76 L261.73 801.35 L262.2 800.28 L262.67 799.13 L263.13 798.61 L263.6 796.76 L264.07 795 L264.53 791.57 L265 788.71 L265.47 785.45 L265.93 780.64 L266.4 776.36 L266.87 769.8 L267.33 765.03 L267.8 757.74 L268.27 751.81 L268.73 745.27 L269.2 744.28 L269.67 741.08 L270.13 733.88 L270.6 734.26 L271.07 738.34 L271.53 734.48 L272 742.06 L272.47 739.48 L272.93 743.55 L273.4 746.72 L273.87 753.5 L274.33 759.48 L274.8 763.67 L275.27 769.24 L275.73 772.59 L276.2 776.93 L276.67 778.93 L277.13 783.42 L277.6 787.98 L278.07 789.44 L278.53 792.8 L279 794.91 L279.47 796.73 L279.93 797.47 L280.4 798.69 L280.87 799.94 L281.33 800.7 L281.8 800.74 L282.27 801.61 L282.73 801.86 L283.2 802.14 L283.67 802.27 L284.13 802.37 L284.6 802.45 L285.07 802.5 L285.53 802.53 L286 802.56 L286 802.6Z" fill="#d8b060" fill-opacity="0.4" stroke="#f09040" stroke-width="0.8" stroke-linejoin="round"/>
<path d="M275 802.6 L275 802.49 L275.45 802.44 L275.9 802.35 L276.35 802.24 L276.8 801.83 L277.25 801.4 L277.7 800.98 L278.15 801 L278.6 799.9 L279.05 799.28 L279.5 798.27 L279.95 796.94 L280.4 795.99 L280.85 794.37 L281.3 793.11 L281.75 790.79 L282.2 787.96 L282.65 786.16 L283.1 783.55 L283.55 782.05 L284 779.14 L284.45 779.62 L284.9 775.97 L285.35 775.4 L285.8 774.82 L286.25 776.22 L286.7 776.72 L287.15 777.35 L287.6 778.37 L288.05 780.16 L288.5 782.63 L288.95 783.73 L289.4 785.14 L289.85 787.44 L290.3 788.15 L290.75 789.82 L291.2 791.18 L291.65 793.93 L292.1 794.91 L292.55 795.82 L293 797.47 L293.45 798.42 L293.9 799.09 L294.35 799.88 L294.8 800.26 L295.25 800.49 L295.7 801.02 L296.15 801.42 L296.6 801.59 L297.05 802.15 L297.5 802.26 L297.95 802.37 L298.4 802.44 L298.85 802.49 L299.3 802.52 L299.75 802.55 L300.2 802.56 L300.65 802.58 L301.1 802.59 L301.55 802.59 L302 802.59 L302 802.6Z" fill="#6f9a4a" fill-opacity="0.55" stroke="#3f7a20" stroke-width="0.8" stroke-linejoin="round"/>
<path d="M258.2 728.1V802.4" stroke="#999" stroke-width="0.8" fill="none" stroke-dasharray="2 3"/>
<path d="M274 739.8H329.5M274 738.2V741.4M329.5 738.2V741.4" stroke="#1a1a1a" stroke-width="1.3" fill="none"/>
<text x="292.5" y="737.5">ROS</text>
<text x="242.1" y="819" font-size="11.3">10</text>
<text x="254.5" y="813.6" font-size="8.2">0</text>
<text x="261.65" y="819" font-size="11.3">10</text>
<text x="274.05" y="813.6" font-size="8.2">1</text>
<text x="281.2" y="819" font-size="11.3">10</text>
<text x="293.6" y="813.6" font-size="8.2">2</text>
<text x="300.75" y="819" font-size="11.3">10</text>
<text x="313.15" y="813.6" font-size="8.2">3</text>
<text x="320.3" y="819" font-size="11.3">10</text>
<text x="332.7" y="813.6" font-size="8.2">4</text>
<text x="293" y="832.1" text-anchor="middle">FITC-H</text>
<text x="346.2" y="762.8" text-anchor="middle" transform="rotate(-90 346.2 762.8)">Relative</text>
<text x="360" y="758.3" text-anchor="middle" transform="rotate(-90 360 758.3)">Lipid ROS<tspan font-size="9" fill="#666">(%)</tspan></text>
<circle cx="603.1" cy="696.9" r="2.0" fill="#ee6a74"/>
<text x="608" y="700.2">NC</text>
<rect x="625.3" y="695.1" width="3.6" height="3.6" fill="#4d4df2"/>
<text x="630.4" y="700.2">shMICAL2</text>
<path d="M376.7 708.6L403.5 708.6" stroke="#111" stroke-width="1.25"/>
<text x="406.8" y="712.8">CNE1</text>
<path d="M437 708.6L465.6 708.6" stroke="#111" stroke-width="1.25"/>
<path d="M486.2 709.8L514 709.8" stroke="#111" stroke-width="1.25"/>
<text x="515.7" y="713.8">CNE2</text>
<path d="M545.3 709.8L575.8 709.8" stroke="#111" stroke-width="1.25"/>
<path d="M589 709.8L615.5 709.8" stroke="#111" stroke-width="1.25"/>
<text x="616.7" y="713.8">C666-1</text>
<path d="M655.2 709.8L681.7 709.8" stroke="#111" stroke-width="1.25"/>
<path d="M384.7 719.4V798.3H463.8M381.5 798.3H384.7M381.5 772H384.7M381.5 745.7H384.7M381.5 719.4H384.7M397 798.3V801.5M424.3 798.3V801.5M451.9 798.3V801.5" stroke="#111" stroke-width="1.4" fill="none"/>
<text x="380" y="802.3" text-anchor="end">0</text>
<text x="380" y="776" text-anchor="end">50</text>
<text x="380" y="749.7" text-anchor="end">100</text>
<text x="380" y="723.4" text-anchor="end">150</text>
<path d="M388.8 798.3V791.2H394.4V798.3" stroke="#ee6a74" stroke-width="1.2" fill="none"/>
<circle cx="390.2" cy="790.6" r="1.25" fill="#ee6a74"/>
<circle cx="392.8" cy="790.9" r="1.25" fill="#ee6a74"/>
<path d="M399.2 798.3V786.99H405.2V798.3" stroke="#4d4df2" stroke-width="1.2" fill="none"/>
<circle cx="400.8" cy="786.39" r="1.25" fill="#4d4df2"/>
<circle cx="403.4" cy="786.69" r="1.25" fill="#4d4df2"/>
<path d="M416.1 798.3V785.15H421.7V798.3" stroke="#ee6a74" stroke-width="1.2" fill="none"/>
<circle cx="417.5" cy="784.55" r="1.25" fill="#ee6a74"/>
<circle cx="420.1" cy="784.85" r="1.25" fill="#ee6a74"/>
<path d="M426.5 798.3V765.69H432.5V798.3" stroke="#4d4df2" stroke-width="1.2" fill="none"/>
<circle cx="428.1" cy="765.09" r="1.25" fill="#4d4df2"/>
<circle cx="430.7" cy="765.39" r="1.25" fill="#4d4df2"/>
<path d="M443.7 798.3V780.94H449.3V798.3" stroke="#ee6a74" stroke-width="1.2" fill="none"/>
<circle cx="445.1" cy="780.34" r="1.25" fill="#ee6a74"/>
<circle cx="447.7" cy="780.64" r="1.25" fill="#ee6a74"/>
<path d="M454.1 798.3V746.75H460.1V798.3" stroke="#4d4df2" stroke-width="1.2" fill="none"/>
<circle cx="455.7" cy="746.15" r="1.25" fill="#4d4df2"/>
<circle cx="458.3" cy="746.45" r="1.25" fill="#4d4df2"/>
<path d="M391.7 781.3H401.8M391.7 778.3V784.3M401.8 778.3V784.3" stroke="#222" stroke-width="1.3" fill="none"/>
<path d="M393.9 771.35L394.71 772.99L396.52 773.25L395.21 774.52L395.52 776.32L393.9 775.47L392.28 776.32L392.59 774.52L391.28 773.25L393.09 772.99ZM399.6 771.35L400.41 772.99L402.22 773.25L400.91 774.52L401.22 776.32L399.6 775.47L397.98 776.32L398.29 774.52L396.98 773.25L398.79 772.99Z" fill="#111"/>
<path d="M419.7 760.6H429.1M419.7 757.6V763.6M429.1 757.6V763.6" stroke="#222" stroke-width="1.3" fill="none"/>
<path d="M415.85 750.65L416.66 752.29L418.47 752.55L417.16 753.82L417.47 755.62L415.85 754.77L414.23 755.62L414.54 753.82L413.23 752.55L415.04 752.29ZM421.55 750.65L422.36 752.29L424.17 752.55L422.86 753.82L423.17 755.62L421.55 754.77L419.93 755.62L420.24 753.82L418.93 752.55L420.74 752.29ZM427.25 750.65L428.06 752.29L429.87 752.55L428.56 753.82L428.87 755.62L427.25 754.77L425.63 755.62L425.94 753.82L424.63 752.55L426.44 752.29ZM432.95 750.65L433.76 752.29L435.57 752.55L434.26 753.82L434.57 755.62L432.95 754.77L431.33 755.62L431.64 753.82L430.33 752.55L432.14 752.29Z" fill="#111"/>
<path d="M447 742H456.4M447 739V745M456.4 739V745" stroke="#222" stroke-width="1.3" fill="none"/>
<path d="M443.15 732.05L443.96 733.69L445.77 733.95L444.46 735.22L444.77 737.02L443.15 736.17L441.53 737.02L441.84 735.22L440.53 733.95L442.34 733.69ZM448.85 732.05L449.66 733.69L451.47 733.95L450.16 735.22L450.47 737.02L448.85 736.17L447.23 737.02L447.54 735.22L446.23 733.95L448.04 733.69ZM454.55 732.05L455.36 733.69L457.17 733.95L455.86 735.22L456.17 737.02L454.55 736.17L452.93 737.02L453.24 735.22L451.93 733.95L453.74 733.69ZM460.25 732.05L461.06 733.69L462.87 733.95L461.56 735.22L461.87 737.02L460.25 736.17L458.63 737.02L458.94 735.22L457.63 733.95L459.44 733.69Z" fill="#111"/>
<path d="M394.2 812H399.8M397 809.2V814.8" stroke="#222" stroke-width="1.1" fill="none"/>
<path d="M393.2 822.6L400.8 822.6" stroke="#222" stroke-width="1.1"/>
<path d="M393.2 832.2L400.8 832.2" stroke="#222" stroke-width="1.1"/>
<path d="M420.5 812L428.1 812" stroke="#222" stroke-width="1.1"/>
<path d="M421.5 822.6H427.1M424.3 819.8V825.4" stroke="#222" stroke-width="1.1" fill="none"/>
<path d="M420.5 832.2L428.1 832.2" stroke="#222" stroke-width="1.1"/>
<path d="M448.1 812L455.7 812" stroke="#222" stroke-width="1.1"/>
<path d="M448.1 822.6L455.7 822.6" stroke="#222" stroke-width="1.1"/>
<path d="M449.1 832.2H454.7M451.9 829.4V835" stroke="#222" stroke-width="1.1" fill="none"/>
<path d="M491.1 719.7V798.3H574.5M487.9 798.3H491.1M487.9 772.1H491.1M487.9 745.9H491.1M487.9 719.7H491.1M503.4 798.3V801.5M531 798.3V801.5M558.2 798.3V801.5" stroke="#111" stroke-width="1.4" fill="none"/>
<text x="486.6" y="802.3" text-anchor="end">0</text>
<text x="486.6" y="776.1" text-anchor="end">50</text>
<text x="486.6" y="749.9" text-anchor="end">100</text>
<text x="486.6" y="723.7" text-anchor="end">150</text>
<path d="M495.2 798.3V788.34H500.8V798.3" stroke="#ee6a74" stroke-width="1.2" fill="none"/>
<circle cx="496.6" cy="787.74" r="1.25" fill="#ee6a74"/>
<circle cx="499.2" cy="788.04" r="1.25" fill="#ee6a74"/>
<path d="M505.6 798.3V783.1H511.6V798.3" stroke="#4d4df2" stroke-width="1.2" fill="none"/>
<circle cx="507.2" cy="782.5" r="1.25" fill="#4d4df2"/>
<circle cx="509.8" cy="782.8" r="1.25" fill="#4d4df2"/>
<path d="M522.8 798.3V778.39H528.4V798.3" stroke="#ee6a74" stroke-width="1.2" fill="none"/>
<circle cx="524.2" cy="777.79" r="1.25" fill="#ee6a74"/>
<circle cx="526.8" cy="778.09" r="1.25" fill="#ee6a74"/>
<path d="M533.2 798.3V752.19H539.2V798.3" stroke="#4d4df2" stroke-width="1.2" fill="none"/>
<circle cx="534.8" cy="751.59" r="1.25" fill="#4d4df2"/>
<circle cx="537.4" cy="751.89" r="1.25" fill="#4d4df2"/>
<path d="M550 798.3V778.39H555.6V798.3" stroke="#ee6a74" stroke-width="1.2" fill="none"/>
<circle cx="551.4" cy="777.79" r="1.25" fill="#ee6a74"/>
<circle cx="554" cy="778.09" r="1.25" fill="#ee6a74"/>
<path d="M560.4 798.3V745.9H566.4V798.3" stroke="#4d4df2" stroke-width="1.2" fill="none"/>
<circle cx="562" cy="745.3" r="1.25" fill="#4d4df2"/>
<circle cx="564.6" cy="745.6" r="1.25" fill="#4d4df2"/>
<path d="M498.6 778.8H508.5M498.6 775.8V781.8M508.5 775.8V781.8" stroke="#222" stroke-width="1.3" fill="none"/>
<path d="M497.85 768.85L498.66 770.49L500.47 770.75L499.16 772.02L499.47 773.82L497.85 772.97L496.23 773.82L496.54 772.02L495.23 770.75L497.04 770.49ZM503.55 768.85L504.36 770.49L506.17 770.75L504.86 772.02L505.17 773.82L503.55 772.97L501.93 773.82L502.24 772.02L500.93 770.75L502.74 770.49ZM509.25 768.85L510.06 770.49L511.87 770.75L510.56 772.02L510.87 773.82L509.25 772.97L507.63 773.82L507.94 772.02L506.63 770.75L508.44 770.49Z" fill="#111"/>
<path d="M525.9 747H535M525.9 744V750M535 744V750" stroke="#222" stroke-width="1.3" fill="none"/>
<path d="M521.9 737.05L522.71 738.69L524.52 738.95L523.21 740.22L523.52 742.02L521.9 741.17L520.28 742.02L520.59 740.22L519.28 738.95L521.09 738.69ZM527.6 737.05L528.41 738.69L530.22 738.95L528.91 740.22L529.22 742.02L527.6 741.17L525.98 742.02L526.29 740.22L524.98 738.95L526.79 738.69ZM533.3 737.05L534.11 738.69L535.92 738.95L534.61 740.22L534.92 742.02L533.3 741.17L531.68 742.02L531.99 740.22L530.68 738.95L532.49 738.69ZM539 737.05L539.81 738.69L541.62 738.95L540.31 740.22L540.62 742.02L539 741.17L537.38 742.02L537.69 740.22L536.38 738.95L538.19 738.69Z" fill="#111"/>
<path d="M553.5 742H563.4M553.5 739V745M563.4 739V745" stroke="#222" stroke-width="1.3" fill="none"/>
<path d="M549.9 732.05L550.71 733.69L552.52 733.95L551.21 735.22L551.52 737.02L549.9 736.17L548.28 737.02L548.59 735.22L547.28 733.95L549.09 733.69ZM555.6 732.05L556.41 733.69L558.22 733.95L556.91 735.22L557.22 737.02L555.6 736.17L553.98 737.02L554.29 735.22L552.98 733.95L554.79 733.69ZM561.3 732.05L562.11 733.69L563.92 733.95L562.61 735.22L562.92 737.02L561.3 736.17L559.68 737.02L559.99 735.22L558.68 733.95L560.49 733.69ZM567 732.05L567.81 733.69L569.62 733.95L568.31 735.22L568.62 737.02L567 736.17L565.38 737.02L565.69 735.22L564.38 733.95L566.19 733.69Z" fill="#111"/>
<path d="M500.6 812H506.2M503.4 809.2V814.8" stroke="#222" stroke-width="1.1" fill="none"/>
<path d="M499.6 822.6L507.2 822.6" stroke="#222" stroke-width="1.1"/>
<path d="M499.6 832.2L507.2 832.2" stroke="#222" stroke-width="1.1"/>
<path d="M527.2 812L534.8 812" stroke="#222" stroke-width="1.1"/>
<path d="M528.2 822.6H533.8M531 819.8V825.4" stroke="#222" stroke-width="1.1" fill="none"/>
<path d="M527.2 832.2L534.8 832.2" stroke="#222" stroke-width="1.1"/>
<path d="M554.4 812L562 812" stroke="#222" stroke-width="1.1"/>
<path d="M554.4 822.6L562 822.6" stroke="#222" stroke-width="1.1"/>
<path d="M555.4 832.2H561M558.2 829.4V835" stroke="#222" stroke-width="1.1" fill="none"/>
<path d="M594.9 719.7V798.3H673.8M591.7 798.3H594.9M591.7 772.1H594.9M591.7 745.9H594.9M591.7 719.7H594.9M607.5 798.3V801.5M635 798.3V801.5M662.8 798.3V801.5" stroke="#111" stroke-width="1.4" fill="none"/>
<text x="590.4" y="802.3" text-anchor="end">0</text>
<text x="590.4" y="776.1" text-anchor="end">50</text>
<text x="590.4" y="749.9" text-anchor="end">100</text>
<text x="590.4" y="723.7" text-anchor="end">150</text>
<path d="M599.3 798.3V793.06H604.9V798.3" stroke="#ee6a74" stroke-width="1.2" fill="none"/>
<circle cx="600.7" cy="792.46" r="1.25" fill="#ee6a74"/>
<circle cx="603.3" cy="792.76" r="1.25" fill="#ee6a74"/>
<path d="M609.7 798.3V790.44H615.7V798.3" stroke="#4d4df2" stroke-width="1.2" fill="none"/>
<circle cx="611.3" cy="789.84" r="1.25" fill="#4d4df2"/>
<circle cx="613.9" cy="790.14" r="1.25" fill="#4d4df2"/>
<path d="M626.8 798.3V788.87H632.4V798.3" stroke="#ee6a74" stroke-width="1.2" fill="none"/>
<circle cx="628.2" cy="788.27" r="1.25" fill="#ee6a74"/>
<circle cx="630.8" cy="788.57" r="1.25" fill="#ee6a74"/>
<path d="M637.2 798.3V785.2H643.2V798.3" stroke="#4d4df2" stroke-width="1.2" fill="none"/>
<circle cx="638.8" cy="784.6" r="1.25" fill="#4d4df2"/>
<circle cx="641.4" cy="784.9" r="1.25" fill="#4d4df2"/>
<path d="M654.6 798.3V781.01H660.2V798.3" stroke="#ee6a74" stroke-width="1.2" fill="none"/>
<circle cx="656" cy="780.41" r="1.25" fill="#ee6a74"/>
<circle cx="658.6" cy="780.71" r="1.25" fill="#ee6a74"/>
<path d="M665 798.3V749.04H671V798.3" stroke="#4d4df2" stroke-width="1.2" fill="none"/>
<circle cx="666.6" cy="748.44" r="1.25" fill="#4d4df2"/>
<circle cx="669.2" cy="748.74" r="1.25" fill="#4d4df2"/>
<path d="M602.3 786.2H612.5M602.3 783.2V789.2M612.5 783.2V789.2" stroke="#222" stroke-width="1.3" fill="none"/>
<path d="M598.85 776.25L599.66 777.89L601.47 778.15L600.16 779.42L600.47 781.22L598.85 780.38L597.23 781.22L597.54 779.42L596.23 778.15L598.04 777.89ZM604.55 776.25L605.36 777.89L607.17 778.15L605.86 779.42L606.17 781.22L604.55 780.38L602.93 781.22L603.24 779.42L601.93 778.15L603.74 777.89ZM610.25 776.25L611.06 777.89L612.87 778.15L611.56 779.42L611.87 781.22L610.25 780.38L608.63 781.22L608.94 779.42L607.63 778.15L609.44 777.89ZM615.95 776.25L616.76 777.89L618.57 778.15L617.26 779.42L617.57 781.22L615.95 780.38L614.33 781.22L614.64 779.42L613.33 778.15L615.14 777.89Z" fill="#111"/>
<path d="M630.9 779.8H641M630.9 776.8V782.8M641 776.8V782.8" stroke="#222" stroke-width="1.3" fill="none"/>
<path d="M627.4 769.85L628.21 771.49L630.02 771.75L628.71 773.02L629.02 774.82L627.4 773.97L625.78 774.82L626.09 773.02L624.78 771.75L626.59 771.49ZM633.1 769.85L633.91 771.49L635.72 771.75L634.41 773.02L634.72 774.82L633.1 773.97L631.48 774.82L631.79 773.02L630.48 771.75L632.29 771.49ZM638.8 769.85L639.61 771.49L641.42 771.75L640.11 773.02L640.42 774.82L638.8 773.97L637.18 774.82L637.49 773.02L636.18 771.75L637.99 771.49ZM644.5 769.85L645.31 771.49L647.12 771.75L645.81 773.02L646.12 774.82L644.5 773.97L642.88 774.82L643.19 773.02L641.88 771.75L643.69 771.49Z" fill="#111"/>
<path d="M658.2 742.5H667.6M658.2 739.5V745.5M667.6 739.5V745.5" stroke="#222" stroke-width="1.3" fill="none"/>
<path d="M654.35 732.55L655.16 734.19L656.97 734.45L655.66 735.72L655.97 737.52L654.35 736.67L652.73 737.52L653.04 735.72L651.73 734.45L653.54 734.19ZM660.05 732.55L660.86 734.19L662.67 734.45L661.36 735.72L661.67 737.52L660.05 736.67L658.43 737.52L658.74 735.72L657.43 734.45L659.24 734.19ZM665.75 732.55L666.56 734.19L668.37 734.45L667.06 735.72L667.37 737.52L665.75 736.67L664.13 737.52L664.44 735.72L663.13 734.45L664.94 734.19ZM671.45 732.55L672.26 734.19L674.07 734.45L672.76 735.72L673.07 737.52L671.45 736.67L669.83 737.52L670.14 735.72L668.83 734.45L670.64 734.19Z" fill="#111"/>
<path d="M604.7 812H610.3M607.5 809.2V814.8" stroke="#222" stroke-width="1.1" fill="none"/>
<path d="M603.7 822.6L611.3 822.6" stroke="#222" stroke-width="1.1"/>
<path d="M603.7 832.2L611.3 832.2" stroke="#222" stroke-width="1.1"/>
<path d="M631.2 812L638.8 812" stroke="#222" stroke-width="1.1"/>
<path d="M632.2 822.6H637.8M635 819.8V825.4" stroke="#222" stroke-width="1.1" fill="none"/>
<path d="M631.2 832.2L638.8 832.2" stroke="#222" stroke-width="1.1"/>
<path d="M659 812L666.6 812" stroke="#222" stroke-width="1.1"/>
<path d="M659 822.6L666.6 822.6" stroke="#222" stroke-width="1.1"/>
<path d="M660 832.2H665.6M662.8 829.4V835" stroke="#222" stroke-width="1.1" fill="none"/>
<text x="379.8" y="813.9" text-anchor="end">DMSO</text>
<text x="382" y="824.7" text-anchor="end">Erastin</text>
<text x="383.4" y="835.6" text-anchor="end">Sorafenib</text>
<text x="9.4" y="854.6" font-size="16.8">J</text>
<path d="M42.2 866.6L76.6 866.6" stroke="#111" stroke-width="1.25"/>
<text x="79.7" y="870.6">CNE1</text>
<path d="M111.1 866.6L152 866.6" stroke="#111" stroke-width="1.25"/>
<path d="M165.8 866.6L199.8 866.6" stroke="#111" stroke-width="1.25"/>
<text x="203.1" y="870.6">CNE2</text>
<path d="M234.8 866.6L270 866.6" stroke="#111" stroke-width="1.25"/>
<path d="M286.6 866.6L322.4 866.6" stroke="#111" stroke-width="1.25"/>
<text x="324.2" y="870.6">C666-1</text>
<path d="M362 866.6L402.3 866.6" stroke="#111" stroke-width="1.25"/>
<circle cx="315.5" cy="850.6" r="2.0" fill="#ee6a74"/>
<text x="321.2" y="853.8">NC</text>
<rect x="343" y="848.9" width="3.6" height="3.6" fill="#4d4df2"/>
<text x="348.6" y="853.8">shMICAL2</text>
<path d="M57.5 883.7V980.8H153.3M54.3 980.8H57.5M54.3 956.52H57.5M54.3 932.25H57.5M54.3 907.98H57.5M54.3 883.7H57.5M71.5 980.8V984M105 980.8V984M139 980.8V984" stroke="#111" stroke-width="1.4" fill="none"/>
<text x="48.6" y="984.8" text-anchor="end">0</text>
<text x="48.6" y="960.52" text-anchor="end">2</text>
<text x="48.6" y="936.25" text-anchor="end">4</text>
<text x="48.6" y="911.98" text-anchor="end">6</text>
<text x="48.6" y="887.7" text-anchor="end">8</text>
<path d="M61.1 980.8V949.24H69.6V980.8" stroke="#ee6a74" stroke-width="1.4" fill="none"/>
<circle cx="63.45" cy="949.85" r="1.35" fill="#ee6a74"/>
<circle cx="65.45" cy="948.03" r="1.35" fill="#ee6a74"/>
<circle cx="67.35" cy="949.24" r="1.35" fill="#ee6a74"/>
<path d="M74 980.8V930.43H82V980.8" stroke="#4d4df2" stroke-width="1.4" fill="none"/>
<path d="M78 925.57V931.64M76.2 925.57H79.8M76.2 931.64H79.8" stroke="#4d4df2" stroke-width="1" fill="none"/>
<circle cx="76.1" cy="931.64" r="1.35" fill="#4d4df2"/>
<circle cx="78.1" cy="925.57" r="1.35" fill="#4d4df2"/>
<circle cx="80" cy="931.04" r="1.35" fill="#4d4df2"/>
<path d="M94.9 980.8V932.25H102.9V980.8" stroke="#ee6a74" stroke-width="1.4" fill="none"/>
<path d="M98.9 923.75V938.32M97.1 923.75H100.7M97.1 938.32H100.7" stroke="#ee6a74" stroke-width="1" fill="none"/>
<circle cx="97" cy="938.32" r="1.35" fill="#ee6a74"/>
<circle cx="99" cy="923.75" r="1.35" fill="#ee6a74"/>
<circle cx="100.9" cy="932.25" r="1.35" fill="#ee6a74"/>
<path d="M107.3 980.8V917.08H115.6V980.8" stroke="#4d4df2" stroke-width="1.4" fill="none"/>
<path d="M111.45 912.22V921.93M109.58 912.22H113.32M109.58 921.93H113.32" stroke="#4d4df2" stroke-width="1" fill="none"/>
<circle cx="109.55" cy="921.93" r="1.35" fill="#4d4df2"/>
<circle cx="111.55" cy="912.22" r="1.35" fill="#4d4df2"/>
<circle cx="113.45" cy="917.08" r="1.35" fill="#4d4df2"/>
<path d="M128.4 980.8V933.46H136.5V980.8" stroke="#ee6a74" stroke-width="1.4" fill="none"/>
<circle cx="130.55" cy="934.07" r="1.35" fill="#ee6a74"/>
<circle cx="132.55" cy="932.25" r="1.35" fill="#ee6a74"/>
<circle cx="134.45" cy="933.46" r="1.35" fill="#ee6a74"/>
<path d="M141.1 980.8V916.47H149.6V980.8" stroke="#4d4df2" stroke-width="1.4" fill="none"/>
<path d="M145.35 911.01V921.93M143.44 911.01H147.26M143.44 921.93H147.26" stroke="#4d4df2" stroke-width="1" fill="none"/>
<circle cx="143.45" cy="921.93" r="1.35" fill="#4d4df2"/>
<circle cx="145.45" cy="911.01" r="1.35" fill="#4d4df2"/>
<circle cx="147.35" cy="916.47" r="1.35" fill="#4d4df2"/>
<path d="M64.6 919H76.6M64.6 915.8V922.2M76.6 915.8V922.2" stroke="#222" stroke-width="1.3" fill="none"/>
<path d="M67.7 908.75L68.54 910.45L70.41 910.72L69.06 912.04L69.38 913.91L67.7 913.02L66.02 913.91L66.34 912.04L64.99 910.72L66.86 910.45ZM73.5 908.75L74.34 910.45L76.21 910.72L74.86 912.04L75.18 913.91L73.5 913.02L71.82 913.91L72.14 912.04L70.79 910.72L72.66 910.45Z" fill="#111"/>
<path d="M98.9 904.9H110.6M98.9 901.7V908.1M110.6 901.7V908.1" stroke="#222" stroke-width="1.3" fill="none"/>
<path d="M104.75 894.65L105.59 896.35L107.46 896.62L106.11 897.94L106.43 899.81L104.75 898.92L103.07 899.81L103.39 897.94L102.04 896.62L103.91 896.35Z" fill="#111"/>
<path d="M132.9 903.7H145.6M132.9 900.5V906.9M145.6 900.5V906.9" stroke="#222" stroke-width="1.3" fill="none"/>
<path d="M136.35 893.45L137.19 895.15L139.06 895.42L137.71 896.74L138.03 898.61L136.35 897.73L134.67 898.61L134.99 896.74L133.64 895.42L135.51 895.15ZM142.15 893.45L142.99 895.15L144.86 895.42L143.51 896.74L143.83 898.61L142.15 897.73L140.47 898.61L140.79 896.74L139.44 895.42L141.31 895.15Z" fill="#111"/>
<path d="M68.7 994.2H74.3M71.5 991.4V997" stroke="#222" stroke-width="1.1" fill="none"/>
<path d="M67.5 1005.6L75.5 1005.6" stroke="#222" stroke-width="1.1"/>
<path d="M67.5 1016.6L75.5 1016.6" stroke="#222" stroke-width="1.1"/>
<path d="M101 994.2L109 994.2" stroke="#222" stroke-width="1.1"/>
<path d="M102.2 1005.6H107.8M105 1002.8V1008.4" stroke="#222" stroke-width="1.1" fill="none"/>
<path d="M101 1016.6L109 1016.6" stroke="#222" stroke-width="1.1"/>
<path d="M135 994.2L143 994.2" stroke="#222" stroke-width="1.1"/>
<path d="M135 1005.6L143 1005.6" stroke="#222" stroke-width="1.1"/>
<path d="M136.2 1016.6H141.8M139 1013.8V1019.4" stroke="#222" stroke-width="1.1" fill="none"/>
<path d="M174.8 883.7V981.1H272.6M171.6 981.1H174.8M171.6 956.75H174.8M171.6 932.4H174.8M171.6 908.05H174.8M171.6 883.7H174.8M189.6 981.1V984.3M223.5 981.1V984.3M257.6 981.1V984.3" stroke="#111" stroke-width="1.4" fill="none"/>
<text x="164.4" y="985.1" text-anchor="end">0</text>
<text x="164.4" y="960.75" text-anchor="end">2</text>
<text x="164.4" y="936.4" text-anchor="end">4</text>
<text x="164.4" y="912.05" text-anchor="end">6</text>
<text x="164.4" y="887.7" text-anchor="end">8</text>
<path d="M179.1 981.1V934.84H187V981.1" stroke="#ee6a74" stroke-width="1.4" fill="none"/>
<path d="M183.05 931.55V936.05M181.27 931.55H184.83M181.27 936.05H184.83" stroke="#ee6a74" stroke-width="1" fill="none"/>
<circle cx="181.15" cy="936.05" r="1.35" fill="#ee6a74"/>
<circle cx="183.15" cy="931.55" r="1.35" fill="#ee6a74"/>
<circle cx="185.05" cy="935.44" r="1.35" fill="#ee6a74"/>
<path d="M191.8 981.1V925.1H199.8V981.1" stroke="#4d4df2" stroke-width="1.4" fill="none"/>
<circle cx="193.9" cy="925.7" r="1.35" fill="#4d4df2"/>
<circle cx="195.9" cy="924.49" r="1.35" fill="#4d4df2"/>
<circle cx="197.8" cy="925.1" r="1.35" fill="#4d4df2"/>
<path d="M213.2 981.1V925.1H221.4V981.1" stroke="#ee6a74" stroke-width="1.4" fill="none"/>
<path d="M217.3 923.27V929.36M215.46 923.27H219.15M215.46 929.36H219.15" stroke="#ee6a74" stroke-width="1" fill="none"/>
<circle cx="215.4" cy="929.36" r="1.35" fill="#ee6a74"/>
<circle cx="217.4" cy="923.27" r="1.35" fill="#ee6a74"/>
<circle cx="219.3" cy="923.88" r="1.35" fill="#ee6a74"/>
<path d="M225.8 981.1V911.7H233.7V981.1" stroke="#4d4df2" stroke-width="1.4" fill="none"/>
<path d="M229.75 909.63V912.92M227.97 909.63H231.53M227.97 912.92H231.53" stroke="#4d4df2" stroke-width="1" fill="none"/>
<circle cx="227.85" cy="912.92" r="1.35" fill="#4d4df2"/>
<circle cx="229.85" cy="909.63" r="1.35" fill="#4d4df2"/>
<circle cx="231.75" cy="911.09" r="1.35" fill="#4d4df2"/>
<path d="M247.3 981.1V926.31H255.3V981.1" stroke="#ee6a74" stroke-width="1.4" fill="none"/>
<path d="M251.3 920.23V929.97M249.5 920.23H253.1M249.5 929.97H253.1" stroke="#ee6a74" stroke-width="1" fill="none"/>
<circle cx="249.4" cy="929.97" r="1.35" fill="#ee6a74"/>
<circle cx="251.4" cy="920.23" r="1.35" fill="#ee6a74"/>
<circle cx="253.3" cy="927.53" r="1.35" fill="#ee6a74"/>
<path d="M260.1 981.1V912.92H268V981.1" stroke="#4d4df2" stroke-width="1.4" fill="none"/>
<path d="M264.05 907.44V916.94M262.27 907.44H265.83M262.27 916.94H265.83" stroke="#4d4df2" stroke-width="1" fill="none"/>
<circle cx="262.15" cy="916.94" r="1.35" fill="#4d4df2"/>
<circle cx="264.15" cy="907.44" r="1.35" fill="#4d4df2"/>
<circle cx="266.05" cy="913.53" r="1.35" fill="#4d4df2"/>
<path d="M182.7 916.4H195.5M182.7 913.2V919.6M195.5 913.2V919.6" stroke="#222" stroke-width="1.3" fill="none"/>
<path d="M186.2 906.15L187.04 907.85L188.91 908.12L187.56 909.44L187.88 911.31L186.2 910.42L184.52 911.31L184.84 909.44L183.49 908.12L185.36 907.85ZM192 906.15L192.84 907.85L194.71 908.12L193.36 909.44L193.68 911.31L192 910.42L190.32 911.31L190.64 909.44L189.29 908.12L191.16 907.85Z" fill="#111"/>
<path d="M216.9 903.7H229.2M216.9 900.5V906.9M229.2 900.5V906.9" stroke="#222" stroke-width="1.3" fill="none"/>
<path d="M220.15 893.45L220.99 895.15L222.86 895.42L221.51 896.74L221.83 898.61L220.15 897.73L218.47 898.61L218.79 896.74L217.44 895.42L219.31 895.15ZM225.95 893.45L226.79 895.15L228.66 895.42L227.31 896.74L227.63 898.61L225.95 897.73L224.27 898.61L224.59 896.74L223.24 895.42L225.11 895.15Z" fill="#111"/>
<path d="M250.9 902.4H262.9M250.9 899.2V905.6M262.9 899.2V905.6" stroke="#222" stroke-width="1.3" fill="none"/>
<path d="M256.9 892.15L257.74 893.85L259.61 894.12L258.26 895.44L258.58 897.31L256.9 896.42L255.22 897.31L255.54 895.44L254.19 894.12L256.06 893.85Z" fill="#111"/>
<path d="M186.8 995.9H192.4M189.6 993.1V998.7" stroke="#222" stroke-width="1.1" fill="none"/>
<path d="M185.6 1007.3L193.6 1007.3" stroke="#222" stroke-width="1.1"/>
<path d="M185.6 1018.3L193.6 1018.3" stroke="#222" stroke-width="1.1"/>
<path d="M219.5 995.9L227.5 995.9" stroke="#222" stroke-width="1.1"/>
<path d="M220.7 1007.3H226.3M223.5 1004.5V1010.1" stroke="#222" stroke-width="1.1" fill="none"/>
<path d="M219.5 1018.3L227.5 1018.3" stroke="#222" stroke-width="1.1"/>
<path d="M253.6 995.9L261.6 995.9" stroke="#222" stroke-width="1.1"/>
<path d="M253.6 1007.3L261.6 1007.3" stroke="#222" stroke-width="1.1"/>
<path d="M254.8 1018.3H260.4M257.6 1015.5V1021.1" stroke="#222" stroke-width="1.1" fill="none"/>
<path d="M300.7 882.7V980.4H398.5M297.5 980.4H300.7M297.5 947.83H300.7M297.5 915.27H300.7M297.5 882.7H300.7M315.2 980.4V983.6M349.5 980.4V983.6M383.7 980.4V983.6" stroke="#111" stroke-width="1.4" fill="none"/>
<text x="294.6" y="984.4" text-anchor="end">0</text>
<text x="294.6" y="951.83" text-anchor="end">5</text>
<text x="294.6" y="919.27" text-anchor="end">10</text>
<text x="294.6" y="886.7" text-anchor="end">15</text>
<path d="M305.1 980.4V944.58H312.4V980.4" stroke="#ee6a74" stroke-width="1.4" fill="none"/>
<circle cx="306.85" cy="942.62" r="1.35" fill="#ee6a74"/>
<circle cx="308.85" cy="943.6" r="1.35" fill="#ee6a74"/>
<circle cx="310.75" cy="944.25" r="1.35" fill="#ee6a74"/>
<path d="M317.5 980.4V938.06H325.5V980.4" stroke="#4d4df2" stroke-width="1.4" fill="none"/>
<circle cx="319.6" cy="937.74" r="1.35" fill="#4d4df2"/>
<circle cx="321.6" cy="938.06" r="1.35" fill="#4d4df2"/>
<circle cx="323.5" cy="938.06" r="1.35" fill="#4d4df2"/>
<path d="M339.1 980.4V936.11H346.4V980.4" stroke="#ee6a74" stroke-width="1.4" fill="none"/>
<path d="M342.75 933.5V937.41M341.11 933.5H344.39M341.11 937.41H344.39" stroke="#ee6a74" stroke-width="1" fill="none"/>
<circle cx="340.85" cy="933.5" r="1.35" fill="#ee6a74"/>
<circle cx="342.85" cy="936.11" r="1.35" fill="#ee6a74"/>
<circle cx="344.75" cy="937.41" r="1.35" fill="#ee6a74"/>
<path d="M351.4 980.4V921.13H359.6V980.4" stroke="#4d4df2" stroke-width="1.4" fill="none"/>
<circle cx="353.6" cy="919.83" r="1.35" fill="#4d4df2"/>
<circle cx="355.6" cy="920.8" r="1.35" fill="#4d4df2"/>
<circle cx="357.5" cy="921.45" r="1.35" fill="#4d4df2"/>
<path d="M373 980.4V906.15H381V980.4" stroke="#ee6a74" stroke-width="1.4" fill="none"/>
<path d="M377 904.52V907.45M375.2 904.52H378.8M375.2 907.45H378.8" stroke="#ee6a74" stroke-width="1" fill="none"/>
<circle cx="375.1" cy="904.52" r="1.35" fill="#ee6a74"/>
<circle cx="377.1" cy="906.15" r="1.35" fill="#ee6a74"/>
<circle cx="379" cy="907.45" r="1.35" fill="#ee6a74"/>
<path d="M385.8 980.4V900.94H393.4V980.4" stroke="#4d4df2" stroke-width="1.4" fill="none"/>
<circle cx="387.7" cy="899.31" r="1.35" fill="#4d4df2"/>
<circle cx="389.7" cy="900.94" r="1.35" fill="#4d4df2"/>
<circle cx="391.6" cy="901.59" r="1.35" fill="#4d4df2"/>
<path d="M309.6 932.3H322.4M309.6 929.1V935.5M322.4 929.1V935.5" stroke="#222" stroke-width="1.3" fill="none"/>
<path d="M310.2 922.05L311.04 923.75L312.91 924.02L311.56 925.34L311.88 927.21L310.2 926.32L308.52 927.21L308.84 925.34L307.49 924.02L309.36 923.75ZM316 922.05L316.84 923.75L318.71 924.02L317.36 925.34L317.68 927.21L316 926.32L314.32 927.21L314.64 925.34L313.29 924.02L315.16 923.75ZM321.8 922.05L322.64 923.75L324.51 924.02L323.16 925.34L323.48 927.21L321.8 926.32L320.12 927.21L320.44 925.34L319.09 924.02L320.96 923.75Z" fill="#111"/>
<path d="M344 911.3H356.4M344 908.1V914.5M356.4 908.1V914.5" stroke="#222" stroke-width="1.3" fill="none"/>
<path d="M344.4 901.05L345.24 902.75L347.11 903.02L345.76 904.34L346.08 906.21L344.4 905.32L342.72 906.21L343.04 904.34L341.69 903.02L343.56 902.75ZM350.2 901.05L351.04 902.75L352.91 903.02L351.56 904.34L351.88 906.21L350.2 905.32L348.52 906.21L348.84 904.34L347.49 903.02L349.36 902.75ZM356 901.05L356.84 902.75L358.71 903.02L357.36 904.34L357.68 906.21L356 905.32L354.32 906.21L354.64 904.34L353.29 903.02L355.16 902.75Z" fill="#111"/>
<path d="M377.8 890.9H390M377.8 887.7V894.1M390 887.7V894.1" stroke="#222" stroke-width="1.3" fill="none"/>
<path d="M383.9 880.65L384.74 882.35L386.61 882.62L385.26 883.94L385.58 885.81L383.9 884.92L382.22 885.81L382.54 883.94L381.19 882.62L383.06 882.35Z" fill="#111"/>
<path d="M312.4 994.2H318M315.2 991.4V997" stroke="#222" stroke-width="1.1" fill="none"/>
<path d="M311.2 1005.6L319.2 1005.6" stroke="#222" stroke-width="1.1"/>
<path d="M311.2 1016.6L319.2 1016.6" stroke="#222" stroke-width="1.1"/>
<path d="M345.5 994.2L353.5 994.2" stroke="#222" stroke-width="1.1"/>
<path d="M346.7 1005.6H352.3M349.5 1002.8V1008.4" stroke="#222" stroke-width="1.1" fill="none"/>
<path d="M345.5 1016.6L353.5 1016.6" stroke="#222" stroke-width="1.1"/>
<path d="M379.7 994.2L387.7 994.2" stroke="#222" stroke-width="1.1"/>
<path d="M379.7 1005.6L387.7 1005.6" stroke="#222" stroke-width="1.1"/>
<path d="M380.9 1016.6H386.5M383.7 1013.8V1019.4" stroke="#222" stroke-width="1.1" fill="none"/>
<text x="15.2" y="934.3" text-anchor="middle" transform="rotate(-90 15.2 934.3)">FerroOrange</text>
<text x="26.2" y="931.7" text-anchor="middle" transform="rotate(-90 26.2 931.7)">positive radio(%)</text>
<text x="7.2" y="997.8">DMSO</text>
<text x="7.2" y="1008.6">Erastin</text>
<text x="7.2" y="1020">Sorafenib</text>
<text x="410.2" y="861" font-size="16.8">K</text>
<path d="M440.9 868.1L475.4 868.1" stroke="#111" stroke-width="1.25"/>
<text x="477.9" y="872.1">CNE1</text>
<path d="M509.9 868.1L550.7 868.1" stroke="#111" stroke-width="1.25"/>
<path d="M569.6 868L605.6 868" stroke="#111" stroke-width="1.25"/>
<text x="607.3" y="872">CNE2</text>
<path d="M638.4 868L679.7 868" stroke="#111" stroke-width="1.25"/>
<circle cx="592.9" cy="853.1" r="2.0" fill="#ee6a74"/>
<text x="598.2" y="856.6">NC</text>
<rect x="620.8" y="851.3" width="3.6" height="3.6" fill="#4d4df2"/>
<text x="625.7" y="856.6">shMICAL2</text>
<path d="M454.9 882.9V979.2H552.5M451.7 979.2H454.9M451.7 947.1H454.9M451.7 915H454.9M451.7 882.9H454.9M469.7 979.2V982.4M503.5 979.2V982.4M537.5 979.2V982.4" stroke="#111" stroke-width="1.4" fill="none"/>
<text x="448.2" y="983.2" text-anchor="end">0</text>
<text x="448.2" y="951.1" text-anchor="end">1</text>
<text x="448.2" y="919" text-anchor="end">2</text>
<text x="448.2" y="886.9" text-anchor="end">3</text>
<path d="M459.35 979.2V910.18H467.05V979.2" stroke="#ee6a74" stroke-width="1.4" fill="none"/>
<circle cx="461.3" cy="909.03" r="1.35" fill="#ee6a74"/>
<circle cx="463.3" cy="910.18" r="1.35" fill="#ee6a74"/>
<circle cx="465.2" cy="910.96" r="1.35" fill="#ee6a74"/>
<path d="M472.35 979.2V917.57H480.05V979.2" stroke="#4d4df2" stroke-width="1.4" fill="none"/>
<circle cx="474.3" cy="916.61" r="1.35" fill="#4d4df2"/>
<circle cx="476.3" cy="917.57" r="1.35" fill="#4d4df2"/>
<circle cx="478.2" cy="918.34" r="1.35" fill="#4d4df2"/>
<path d="M493.15 979.2V922.38H500.85V979.2" stroke="#ee6a74" stroke-width="1.4" fill="none"/>
<circle cx="495.1" cy="921.23" r="1.35" fill="#ee6a74"/>
<circle cx="497.1" cy="922.38" r="1.35" fill="#ee6a74"/>
<circle cx="499" cy="923.15" r="1.35" fill="#ee6a74"/>
<path d="M506.15 979.2V924.63H513.85V979.2" stroke="#4d4df2" stroke-width="1.4" fill="none"/>
<circle cx="508.1" cy="923.67" r="1.35" fill="#4d4df2"/>
<circle cx="510.1" cy="924.63" r="1.35" fill="#4d4df2"/>
<circle cx="512" cy="925.4" r="1.35" fill="#4d4df2"/>
<path d="M527.15 979.2V931.05H534.85V979.2" stroke="#ee6a74" stroke-width="1.4" fill="none"/>
<circle cx="529.1" cy="929.89" r="1.35" fill="#ee6a74"/>
<circle cx="531.1" cy="931.05" r="1.35" fill="#ee6a74"/>
<circle cx="533" cy="931.82" r="1.35" fill="#ee6a74"/>
<path d="M540.15 979.2V938.11H547.85V979.2" stroke="#4d4df2" stroke-width="1.4" fill="none"/>
<circle cx="542.1" cy="937.15" r="1.35" fill="#4d4df2"/>
<circle cx="544.1" cy="938.11" r="1.35" fill="#4d4df2"/>
<circle cx="546" cy="938.88" r="1.35" fill="#4d4df2"/>
<path d="M463.4 903.9H476.1M463.4 900.7V907.1M476.1 900.7V907.1" stroke="#222" stroke-width="1.3" fill="none"/>
<path d="M461.05 893.65L461.89 895.35L463.76 895.62L462.41 896.94L462.73 898.81L461.05 897.92L459.37 898.81L459.69 896.94L458.34 895.62L460.21 895.35ZM466.85 893.65L467.69 895.35L469.56 895.62L468.21 896.94L468.53 898.81L466.85 897.92L465.17 898.81L465.49 896.94L464.14 895.62L466.01 895.35ZM472.65 893.65L473.49 895.35L475.36 895.62L474.01 896.94L474.33 898.81L472.65 897.92L470.97 898.81L471.29 896.94L469.94 895.62L471.81 895.35ZM478.45 893.65L479.29 895.35L481.16 895.62L479.81 896.94L480.13 898.81L478.45 897.92L476.77 898.81L477.09 896.94L475.74 895.62L477.61 895.35Z" fill="#111"/>
<path d="M497.1 916.1H509.9M497.1 912.9V919.3M509.9 912.9V919.3" stroke="#222" stroke-width="1.3" fill="none"/>
<path d="M500.6 905.85L501.44 907.55L503.31 907.82L501.96 909.14L502.28 911.01L500.6 910.12L498.92 911.01L499.24 909.14L497.89 907.82L499.76 907.55ZM506.4 905.85L507.24 907.55L509.11 907.82L507.76 909.14L508.08 911.01L506.4 910.12L504.72 911.01L505.04 909.14L503.69 907.82L505.56 907.55Z" fill="#111"/>
<path d="M531.6 923.8H543.8M531.6 920.6V927M543.8 920.6V927" stroke="#222" stroke-width="1.3" fill="none"/>
<path d="M531.9 913.55L532.74 915.25L534.61 915.52L533.26 916.84L533.58 918.71L531.9 917.82L530.22 918.71L530.54 916.84L529.19 915.52L531.06 915.25ZM537.7 913.55L538.54 915.25L540.41 915.52L539.06 916.84L539.38 918.71L537.7 917.82L536.02 918.71L536.34 916.84L534.99 915.52L536.86 915.25ZM543.5 913.55L544.34 915.25L546.21 915.52L544.86 916.84L545.18 918.71L543.5 917.82L541.82 918.71L542.14 916.84L540.79 915.52L542.66 915.25Z" fill="#111"/>
<path d="M466.9 995H472.5M469.7 992.2V997.8" stroke="#222" stroke-width="1.1" fill="none"/>
<path d="M465.7 1006.8L473.7 1006.8" stroke="#222" stroke-width="1.1"/>
<path d="M465.7 1018.8L473.7 1018.8" stroke="#222" stroke-width="1.1"/>
<path d="M499.5 995L507.5 995" stroke="#222" stroke-width="1.1"/>
<path d="M500.7 1006.8H506.3M503.5 1004V1009.6" stroke="#222" stroke-width="1.1" fill="none"/>
<path d="M499.5 1018.8L507.5 1018.8" stroke="#222" stroke-width="1.1"/>
<path d="M533.5 995L541.5 995" stroke="#222" stroke-width="1.1"/>
<path d="M533.5 1006.8L541.5 1006.8" stroke="#222" stroke-width="1.1"/>
<path d="M534.7 1018.8H540.3M537.5 1016V1021.6" stroke="#222" stroke-width="1.1" fill="none"/>
<path d="M579.2 884V979.7H675.5M576 979.7H579.2M576 947.8H579.2M576 915.9H579.2M576 884H579.2M593.5 979.7V982.9M626.8 979.7V982.9M660 979.7V982.9" stroke="#111" stroke-width="1.4" fill="none"/>
<text x="574.2" y="983.7" text-anchor="end">0</text>
<text x="574.2" y="951.8" text-anchor="end">1</text>
<text x="574.2" y="919.9" text-anchor="end">2</text>
<text x="574.2" y="888" text-anchor="end">3</text>
<path d="M583.1 979.7V898.36H590.9V979.7" stroke="#ee6a74" stroke-width="1.4" fill="none"/>
<circle cx="585.1" cy="897.21" r="1.35" fill="#ee6a74"/>
<circle cx="587.1" cy="898.36" r="1.35" fill="#ee6a74"/>
<circle cx="589" cy="899.12" r="1.35" fill="#ee6a74"/>
<path d="M596.1 979.7V920.05H603.9V979.7" stroke="#4d4df2" stroke-width="1.4" fill="none"/>
<circle cx="598.1" cy="919.09" r="1.35" fill="#4d4df2"/>
<circle cx="600.1" cy="920.05" r="1.35" fill="#4d4df2"/>
<circle cx="602" cy="920.81" r="1.35" fill="#4d4df2"/>
<path d="M616.4 979.7V925.47H624.2V979.7" stroke="#ee6a74" stroke-width="1.4" fill="none"/>
<circle cx="618.4" cy="924.32" r="1.35" fill="#ee6a74"/>
<circle cx="620.4" cy="925.47" r="1.35" fill="#ee6a74"/>
<circle cx="622.3" cy="926.24" r="1.35" fill="#ee6a74"/>
<path d="M629.4 979.7V944.61H637.2V979.7" stroke="#4d4df2" stroke-width="1.4" fill="none"/>
<circle cx="631.4" cy="943.65" r="1.35" fill="#4d4df2"/>
<circle cx="633.4" cy="944.61" r="1.35" fill="#4d4df2"/>
<circle cx="635.3" cy="945.38" r="1.35" fill="#4d4df2"/>
<path d="M649.6 979.7V935.68H657.4V979.7" stroke="#ee6a74" stroke-width="1.4" fill="none"/>
<circle cx="651.6" cy="934.53" r="1.35" fill="#ee6a74"/>
<circle cx="653.6" cy="935.68" r="1.35" fill="#ee6a74"/>
<circle cx="655.5" cy="936.44" r="1.35" fill="#ee6a74"/>
<path d="M662.6 979.7V950.35H670.4V979.7" stroke="#4d4df2" stroke-width="1.4" fill="none"/>
<circle cx="664.6" cy="949.39" r="1.35" fill="#4d4df2"/>
<circle cx="666.6" cy="950.35" r="1.35" fill="#4d4df2"/>
<circle cx="668.5" cy="951.12" r="1.35" fill="#4d4df2"/>
<path d="M587.6 891.4H600.3M587.6 888.2V894.6M600.3 888.2V894.6" stroke="#222" stroke-width="1.3" fill="none"/>
<path d="M585.25 881.15L586.09 882.85L587.96 883.12L586.61 884.44L586.93 886.31L585.25 885.42L583.57 886.31L583.89 884.44L582.54 883.12L584.41 882.85ZM591.05 881.15L591.89 882.85L593.76 883.12L592.41 884.44L592.73 886.31L591.05 885.42L589.37 886.31L589.69 884.44L588.34 883.12L590.21 882.85ZM596.85 881.15L597.69 882.85L599.56 883.12L598.21 884.44L598.53 886.31L596.85 885.42L595.17 886.31L595.49 884.44L594.14 883.12L596.01 882.85ZM602.65 881.15L603.49 882.85L605.36 883.12L604.01 884.44L604.33 886.31L602.65 885.42L600.97 886.31L601.29 884.44L599.94 883.12L601.81 882.85Z" fill="#111"/>
<path d="M620.4 920H633.1M620.4 916.8V923.2M633.1 916.8V923.2" stroke="#222" stroke-width="1.3" fill="none"/>
<path d="M618.05 909.75L618.89 911.45L620.76 911.72L619.41 913.04L619.73 914.91L618.05 914.02L616.37 914.91L616.69 913.04L615.34 911.72L617.21 911.45ZM623.85 909.75L624.69 911.45L626.56 911.72L625.21 913.04L625.53 914.91L623.85 914.02L622.17 914.91L622.49 913.04L621.14 911.72L623.01 911.45ZM629.65 909.75L630.49 911.45L632.36 911.72L631.01 913.04L631.33 914.91L629.65 914.02L627.97 914.91L628.29 913.04L626.94 911.72L628.81 911.45ZM635.45 909.75L636.29 911.45L638.16 911.72L636.81 913.04L637.13 914.91L635.45 914.02L633.77 914.91L634.09 913.04L632.74 911.72L634.61 911.45Z" fill="#111"/>
<path d="M654.3 928.9H666.6M654.3 925.7V932.1M666.6 925.7V932.1" stroke="#222" stroke-width="1.3" fill="none"/>
<path d="M654.65 918.65L655.49 920.35L657.36 920.62L656.01 921.94L656.33 923.81L654.65 922.92L652.97 923.81L653.29 921.94L651.94 920.62L653.81 920.35ZM660.45 918.65L661.29 920.35L663.16 920.62L661.81 921.94L662.13 923.81L660.45 922.92L658.77 923.81L659.09 921.94L657.74 920.62L659.61 920.35ZM666.25 918.65L667.09 920.35L668.96 920.62L667.61 921.94L667.93 923.81L666.25 922.92L664.57 923.81L664.89 921.94L663.54 920.62L665.41 920.35Z" fill="#111"/>
<path d="M590.7 997H596.3M593.5 994.2V999.8" stroke="#222" stroke-width="1.1" fill="none"/>
<path d="M589.5 1008.7L597.5 1008.7" stroke="#222" stroke-width="1.1"/>
<path d="M589.5 1020.6L597.5 1020.6" stroke="#222" stroke-width="1.1"/>
<path d="M622.8 997L630.8 997" stroke="#222" stroke-width="1.1"/>
<path d="M624 1008.7H629.6M626.8 1005.9V1011.5" stroke="#222" stroke-width="1.1" fill="none"/>
<path d="M622.8 1020.6L630.8 1020.6" stroke="#222" stroke-width="1.1"/>
<path d="M656 997L664 997" stroke="#222" stroke-width="1.1"/>
<path d="M656 1008.7L664 1008.7" stroke="#222" stroke-width="1.1"/>
<path d="M657.2 1020.6H662.8M660 1017.8V1023.4" stroke="#222" stroke-width="1.1" fill="none"/>
<text x="430.8" y="930.7" text-anchor="middle" transform="rotate(-90 430.8 930.7)">GSH/GSSG Ratio</text>
<text x="405.6" y="998.5">DMSO</text>
<text x="405.6" y="1010.7">Erastin</text>
<text x="405.6" y="1022.7">Sorafenib</text>
</svg>
</body></html>
